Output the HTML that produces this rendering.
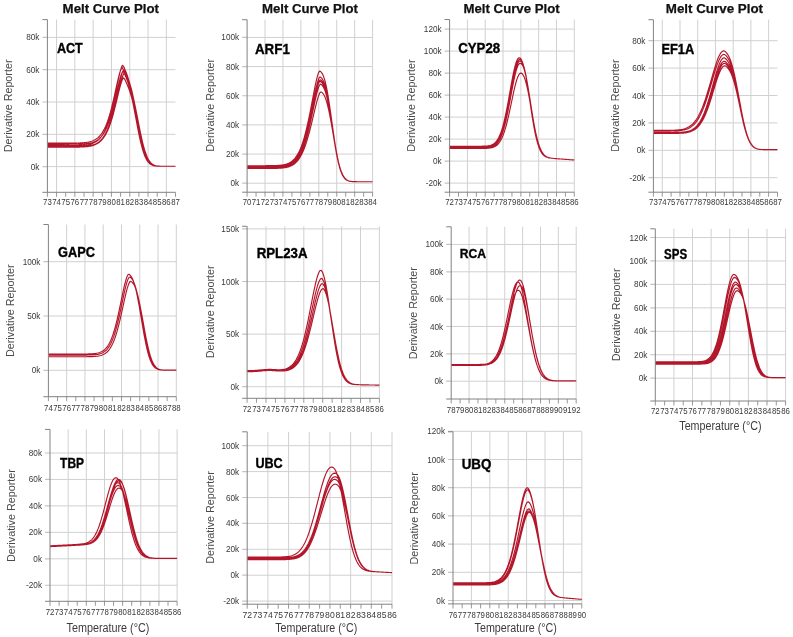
<!DOCTYPE html><html><head><meta charset="utf-8"><style>html,body{margin:0;padding:0;background:#fff;}svg{display:block;filter:blur(0.42px);font-family:"Liberation Sans",sans-serif;}</style></head><body>
<svg width="793" height="637" viewBox="0 0 793 637">
<rect width="793" height="637" fill="#fff"/>
<g><path d="M56.55 19.6V192.3M74.85 19.6V192.3M93.15 19.6V192.3M111.45 19.6V192.3M129.75 19.6V192.3M148.05 19.6V192.3M166.35 19.6V192.3M47.4 166.6H175.5M47.4 134.3H175.5M47.4 102H175.5M47.4 69.7H175.5M47.4 37.4H175.5" stroke="#d0d0d0" stroke-width="1" fill="none"/><path d="M47.4 145.6L48.4 145.6L49.4 145.6L50.4 145.6L51.4 145.6L52.4 145.6L53.4 145.6L54.41 145.6L55.41 145.6L56.41 145.6L57.41 145.6L58.41 145.6L59.41 145.6L60.41 145.6L61.41 145.6L62.41 145.6L63.41 145.6L64.41 145.6L65.41 145.59L66.41 145.59L67.42 145.59L68.42 145.58L69.42 145.58L70.42 145.57L71.42 145.57L72.42 145.56L73.42 145.55L74.42 145.53L75.42 145.52L76.42 145.5L77.42 145.47L78.42 145.45L79.42 145.41L80.43 145.37L81.43 145.32L82.43 145.26L83.43 145.18L84.43 145.09L85.43 144.99L86.43 144.86L87.43 144.72L88.43 144.54L89.43 144.33L90.43 144.08L91.43 143.79L92.44 143.45L93.44 143.05L94.44 142.59L95.44 142.05L96.44 141.41L97.44 140.68L98.44 139.84L99.44 138.87L100.44 137.75L101.44 136.48L102.44 135.03L103.44 133.38L104.44 131.52L105.45 129.43L106.45 127.09L107.45 124.47L108.45 121.57L109.45 118.38L110.45 114.88L111.45 111.08L112.45 106.99L113.45 102.62L114.45 98.02L115.45 93.24L116.45 88.35L117.45 83.48L118.46 78.76L119.46 74.35L120.46 70.45L121.46 67.32L122.46 65.38L123.46 66.26L124.46 68.37L125.46 70.66L126.46 73.18L127.46 75.96L128.46 79.06L129.46 82.54L130.46 86.43L131.47 90.75L132.47 95.46L133.47 100.52L134.47 105.86L135.47 111.37L136.47 116.97L137.47 122.53L138.47 127.96L139.47 133.15L140.47 138.03L141.47 142.53L142.47 146.59L143.47 150.21L144.48 153.36L145.48 156.05L146.48 158.31L147.48 160.17L148.48 161.67L149.48 162.87L150.48 163.79L151.48 164.5L152.48 165.03L153.48 165.41L154.48 165.69L155.48 165.89L156.49 166.02L157.49 166.11L158.49 166.18L159.49 166.21L160.49 166.24L161.49 166.25L162.49 166.26L163.49 166.27L164.49 166.27L165.49 166.27L166.49 166.28L167.49 166.28L168.49 166.28L169.5 166.28L170.5 166.28L171.5 166.28L172.5 166.28L173.5 166.28L174.5 166.28L175.5 166.28M47.4 143.18L48.4 143.18L49.4 143.18L50.4 143.18L51.4 143.18L52.4 143.18L53.4 143.18L54.41 143.18L55.41 143.18L56.41 143.18L57.41 143.18L58.41 143.18L59.41 143.18L60.41 143.18L61.41 143.18L62.41 143.18L63.41 143.18L64.41 143.17L65.41 143.17L66.41 143.17L67.42 143.17L68.42 143.16L69.42 143.16L70.42 143.15L71.42 143.14L72.42 143.13L73.42 143.12L74.42 143.11L75.42 143.09L76.42 143.07L77.42 143.04L78.42 143.01L79.42 142.98L80.43 142.93L81.43 142.88L82.43 142.82L83.43 142.74L84.43 142.65L85.43 142.54L86.43 142.41L87.43 142.25L88.43 142.07L89.43 141.85L90.43 141.6L91.43 141.3L92.44 140.94L93.44 140.53L94.44 140.05L95.44 139.49L96.44 138.84L97.44 138.09L98.44 137.23L99.44 136.23L100.44 135.09L101.44 133.79L102.44 132.31L103.44 130.64L104.44 128.75L105.45 126.63L106.45 124.27L107.45 121.63L108.45 118.73L109.45 115.53L110.45 112.05L111.45 108.28L112.45 104.25L113.45 99.98L114.45 95.52L115.45 90.94L116.45 86.33L117.45 81.83L118.46 77.58L119.46 73.76L120.46 70.59L121.46 68.34L122.46 67.71L123.46 69.94L124.46 72.33L125.46 74.88L126.46 77.61L127.46 80.58L128.46 83.85L129.46 87.46L130.46 91.45L131.47 95.82L132.47 100.54L133.47 105.56L134.47 110.78L135.47 116.13L136.47 121.51L137.47 126.8L138.47 131.91L139.47 136.76L140.47 141.28L141.47 145.4L142.47 149.1L143.47 152.35L144.48 155.16L145.48 157.54L146.48 159.53L147.48 161.14L148.48 162.44L149.48 163.46L150.48 164.24L151.48 164.83L152.48 165.27L153.48 165.59L154.48 165.81L155.48 165.97L156.49 166.08L157.49 166.15L158.49 166.2L159.49 166.23L160.49 166.25L161.49 166.26L162.49 166.27L163.49 166.27L164.49 166.27L165.49 166.28L166.49 166.28L167.49 166.28L168.49 166.28L169.5 166.28L170.5 166.28L171.5 166.28L172.5 166.28L173.5 166.28L174.5 166.28L175.5 166.28M47.4 146.9L48.4 146.9L49.4 146.9L50.4 146.9L51.4 146.9L52.4 146.9L53.4 146.9L54.41 146.9L55.41 146.9L56.41 146.9L57.41 146.9L58.41 146.9L59.41 146.89L60.41 146.89L61.41 146.89L62.41 146.89L63.41 146.89L64.41 146.89L65.41 146.89L66.41 146.89L67.42 146.88L68.42 146.88L69.42 146.88L70.42 146.87L71.42 146.87L72.42 146.86L73.42 146.85L74.42 146.84L75.42 146.83L76.42 146.82L77.42 146.8L78.42 146.77L79.42 146.75L80.43 146.71L81.43 146.67L82.43 146.63L83.43 146.57L84.43 146.5L85.43 146.42L86.43 146.32L87.43 146.2L88.43 146.06L89.43 145.89L90.43 145.7L91.43 145.47L92.44 145.19L93.44 144.87L94.44 144.49L95.44 144.06L96.44 143.54L97.44 142.95L98.44 142.26L99.44 141.46L100.44 140.54L101.44 139.49L102.44 138.29L103.44 136.92L104.44 135.36L105.45 133.6L106.45 131.62L107.45 129.4L108.45 126.92L109.45 124.17L110.45 121.14L111.45 117.82L112.45 114.21L113.45 110.31L114.45 106.15L115.45 101.76L116.45 97.19L117.45 92.51L118.46 87.83L119.46 83.27L120.46 78.99L121.46 75.17L122.46 72.06L123.46 70.02L124.46 70.53L125.46 72.49L126.46 74.63L127.46 76.99L128.46 79.6L129.46 82.52L130.46 85.8L131.47 89.48L132.47 93.57L133.47 98.04L134.47 102.85L135.47 107.93L136.47 113.2L137.47 118.55L138.47 123.88L139.47 129.09L140.47 134.09L141.47 138.8L142.47 143.14L143.47 147.07L144.48 150.58L145.48 153.63L146.48 156.25L147.48 158.45L148.48 160.27L149.48 161.74L150.48 162.91L151.48 163.82L152.48 164.52L153.48 165.04L154.48 165.42L155.48 165.7L156.49 165.89L157.49 166.02L158.49 166.11L159.49 166.18L160.49 166.21L161.49 166.24L162.49 166.25L163.49 166.26L164.49 166.27L165.49 166.27L166.49 166.27L167.49 166.28L168.49 166.28L169.5 166.28L170.5 166.28L171.5 166.28L172.5 166.28L173.5 166.28L174.5 166.28L175.5 166.28M47.4 144.31L48.4 144.31L49.4 144.31L50.4 144.31L51.4 144.31L52.4 144.31L53.4 144.31L54.41 144.31L55.41 144.31L56.41 144.31L57.41 144.31L58.41 144.31L59.41 144.31L60.41 144.31L61.41 144.31L62.41 144.31L63.41 144.31L64.41 144.31L65.41 144.3L66.41 144.3L67.42 144.3L68.42 144.3L69.42 144.29L70.42 144.29L71.42 144.28L72.42 144.27L73.42 144.26L74.42 144.25L75.42 144.24L76.42 144.22L77.42 144.2L78.42 144.18L79.42 144.15L80.43 144.11L81.43 144.07L82.43 144.02L83.43 143.95L84.43 143.88L85.43 143.79L86.43 143.68L87.43 143.55L88.43 143.4L89.43 143.22L90.43 143.01L91.43 142.76L92.44 142.47L93.44 142.12L94.44 141.72L95.44 141.25L96.44 140.7L97.44 140.07L98.44 139.34L99.44 138.49L100.44 137.52L101.44 136.41L102.44 135.15L103.44 133.71L104.44 132.08L105.45 130.24L106.45 128.17L107.45 125.87L108.45 123.31L109.45 120.48L110.45 117.38L111.45 114L112.45 110.34L113.45 106.43L114.45 102.3L115.45 97.98L116.45 93.55L117.45 89.11L118.46 84.77L119.46 80.69L120.46 77.04L121.46 74.02L122.46 71.91L123.46 71.58L124.46 73.72L125.46 76.01L126.46 78.46L127.46 81.1L128.46 83.97L129.46 87.13L130.46 90.64L131.47 94.51L132.47 98.75L133.47 103.33L134.47 108.18L135.47 113.23L136.47 118.39L137.47 123.56L138.47 128.65L139.47 133.56L140.47 138.21L141.47 142.53L142.47 146.48L143.47 150L144.48 153.1L145.48 155.78L146.48 158.04L147.48 159.92L148.48 161.45L149.48 162.67L150.48 163.63L151.48 164.37L152.48 164.92L153.48 165.34L154.48 165.63L155.48 165.85L156.49 165.99L157.49 166.09L158.49 166.16L159.49 166.21L160.49 166.23L161.49 166.25L162.49 166.26L163.49 166.27L164.49 166.27L165.49 166.27L166.49 166.28L167.49 166.28L168.49 166.28L169.5 166.28L170.5 166.28L171.5 166.28L172.5 166.28L173.5 166.28L174.5 166.28L175.5 166.28M47.4 146.41L48.4 146.41L49.4 146.41L50.4 146.41L51.4 146.41L52.4 146.41L53.4 146.41L54.41 146.41L55.41 146.41L56.41 146.41L57.41 146.41L58.41 146.41L59.41 146.41L60.41 146.41L61.41 146.41L62.41 146.41L63.41 146.41L64.41 146.41L65.41 146.41L66.41 146.4L67.42 146.4L68.42 146.4L69.42 146.4L70.42 146.39L71.42 146.39L72.42 146.38L73.42 146.38L74.42 146.37L75.42 146.36L76.42 146.34L77.42 146.33L78.42 146.31L79.42 146.28L80.43 146.26L81.43 146.22L82.43 146.18L83.43 146.13L84.43 146.07L85.43 146L86.43 145.91L87.43 145.81L88.43 145.69L89.43 145.55L90.43 145.37L91.43 145.17L92.44 144.93L93.44 144.65L94.44 144.32L95.44 143.94L96.44 143.49L97.44 142.96L98.44 142.35L99.44 141.65L100.44 140.84L101.44 139.91L102.44 138.84L103.44 137.62L104.44 136.23L105.45 134.66L106.45 132.88L107.45 130.88L108.45 128.65L109.45 126.17L110.45 123.42L111.45 120.4L112.45 117.11L113.45 113.53L114.45 109.7L115.45 105.62L116.45 101.35L117.45 96.94L118.46 92.48L119.46 88.07L120.46 83.86L121.46 80.01L122.46 76.71L123.46 74.22L124.46 73.09L125.46 74.8L126.46 76.87L127.46 79.11L128.46 81.55L129.46 84.24L130.46 87.23L131.47 90.58L132.47 94.3L133.47 98.39L134.47 102.84L135.47 107.58L136.47 112.54L137.47 117.64L138.47 122.77L139.47 127.84L140.47 132.76L141.47 137.43L142.47 141.8L143.47 145.79L144.48 149.39L145.48 152.56L146.48 155.3L147.48 157.64L148.48 159.58L149.48 161.17L150.48 162.45L151.48 163.46L152.48 164.24L153.48 164.83L154.48 165.26L155.48 165.58L156.49 165.81L157.49 165.97L158.49 166.08L159.49 166.15L160.49 166.2L161.49 166.23L162.49 166.25L163.49 166.26L164.49 166.27L165.49 166.27L166.49 166.27L167.49 166.28L168.49 166.28L169.5 166.28L170.5 166.28L171.5 166.28L172.5 166.28L173.5 166.28L174.5 166.28L175.5 166.28M47.4 147.22L48.4 147.22L49.4 147.22L50.4 147.22L51.4 147.22L52.4 147.22L53.4 147.22L54.41 147.22L55.41 147.22L56.41 147.22L57.41 147.22L58.41 147.22L59.41 147.22L60.41 147.22L61.41 147.22L62.41 147.22L63.41 147.22L64.41 147.21L65.41 147.21L66.41 147.21L67.42 147.21L68.42 147.21L69.42 147.2L70.42 147.2L71.42 147.19L72.42 147.19L73.42 147.18L74.42 147.17L75.42 147.16L76.42 147.14L77.42 147.13L78.42 147.1L79.42 147.08L80.43 147.05L81.43 147.01L82.43 146.97L83.43 146.91L84.43 146.85L85.43 146.77L86.43 146.68L87.43 146.57L88.43 146.44L89.43 146.28L90.43 146.1L91.43 145.89L92.44 145.63L93.44 145.33L94.44 144.98L95.44 144.57L96.44 144.1L97.44 143.55L98.44 142.91L99.44 142.17L100.44 141.32L101.44 140.34L102.44 139.23L103.44 137.96L104.44 136.51L105.45 134.89L106.45 133.06L107.45 131.01L108.45 128.72L109.45 126.19L110.45 123.4L111.45 120.35L112.45 117.03L113.45 113.47L114.45 109.67L115.45 105.67L116.45 101.52L117.45 97.29L118.46 93.09L119.46 89.04L120.46 85.28L121.46 82L122.46 79.4L123.46 77.88L124.46 78.88L125.46 80.81L126.46 82.91L127.46 85.18L128.46 87.67L129.46 90.43L130.46 93.51L131.47 96.94L132.47 100.73L133.47 104.86L134.47 109.28L135.47 113.94L136.47 118.75L137.47 123.61L138.47 128.45L139.47 133.17L140.47 137.67L141.47 141.9L142.47 145.8L143.47 149.32L144.48 152.44L145.48 155.16L146.48 157.48L147.48 159.43L148.48 161.03L149.48 162.33L150.48 163.35L151.48 164.15L152.48 164.76L153.48 165.21L154.48 165.54L155.48 165.78L156.49 165.95L157.49 166.06L158.49 166.14L159.49 166.19L160.49 166.22L161.49 166.25L162.49 166.26L163.49 166.27L164.49 166.27L165.49 166.27L166.49 166.28L167.49 166.28L168.49 166.28L169.5 166.28L170.5 166.28L171.5 166.28L172.5 166.28L173.5 166.28L174.5 166.28L175.5 166.28" stroke="#b3162a" stroke-width="1.15" fill="none" stroke-linejoin="round"/><path d="M42.4 166.6H47.4M42.4 134.3H47.4M42.4 102H47.4M42.4 69.7H47.4M42.4 37.4H47.4" stroke="#c4c4c4" stroke-width="1.2" fill="none"/><path d="M47.4 192.3V196.8M56.55 192.3V196.8M65.7 192.3V196.8M74.85 192.3V196.8M84 192.3V196.8M93.15 192.3V196.8M102.3 192.3V196.8M111.45 192.3V196.8M120.6 192.3V196.8M129.75 192.3V196.8M138.9 192.3V196.8M148.05 192.3V196.8M157.2 192.3V196.8M166.35 192.3V196.8M175.5 192.3V196.8" stroke="#999" stroke-width="1" fill="none"/><path d="M47.4 19.6V192.3M42.4 19.6H47.4M42.4 192.3H175.5" stroke="#828282" stroke-width="1" fill="none"/><text x="39.4" y="169.6" font-size="8.2" fill="#383838" text-anchor="end">0k</text><text x="39.4" y="137.3" font-size="8.2" fill="#383838" text-anchor="end">20k</text><text x="39.4" y="105" font-size="8.2" fill="#383838" text-anchor="end">40k</text><text x="39.4" y="72.7" font-size="8.2" fill="#383838" text-anchor="end">60k</text><text x="39.4" y="40.4" font-size="8.2" fill="#383838" text-anchor="end">80k</text><text x="47.4" y="204.9" font-size="8.6" fill="#383838" text-anchor="middle" textLength="8.7" lengthAdjust="spacingAndGlyphs">73</text><text x="56.55" y="204.9" font-size="8.6" fill="#383838" text-anchor="middle" textLength="8.7" lengthAdjust="spacingAndGlyphs">74</text><text x="65.7" y="204.9" font-size="8.6" fill="#383838" text-anchor="middle" textLength="8.7" lengthAdjust="spacingAndGlyphs">75</text><text x="74.85" y="204.9" font-size="8.6" fill="#383838" text-anchor="middle" textLength="8.7" lengthAdjust="spacingAndGlyphs">76</text><text x="84" y="204.9" font-size="8.6" fill="#383838" text-anchor="middle" textLength="8.7" lengthAdjust="spacingAndGlyphs">77</text><text x="93.15" y="204.9" font-size="8.6" fill="#383838" text-anchor="middle" textLength="8.7" lengthAdjust="spacingAndGlyphs">78</text><text x="102.3" y="204.9" font-size="8.6" fill="#383838" text-anchor="middle" textLength="8.7" lengthAdjust="spacingAndGlyphs">79</text><text x="111.45" y="204.9" font-size="8.6" fill="#383838" text-anchor="middle" textLength="8.7" lengthAdjust="spacingAndGlyphs">80</text><text x="120.6" y="204.9" font-size="8.6" fill="#383838" text-anchor="middle" textLength="8.7" lengthAdjust="spacingAndGlyphs">81</text><text x="129.75" y="204.9" font-size="8.6" fill="#383838" text-anchor="middle" textLength="8.7" lengthAdjust="spacingAndGlyphs">82</text><text x="138.9" y="204.9" font-size="8.6" fill="#383838" text-anchor="middle" textLength="8.7" lengthAdjust="spacingAndGlyphs">83</text><text x="148.05" y="204.9" font-size="8.6" fill="#383838" text-anchor="middle" textLength="8.7" lengthAdjust="spacingAndGlyphs">84</text><text x="157.2" y="204.9" font-size="8.6" fill="#383838" text-anchor="middle" textLength="8.7" lengthAdjust="spacingAndGlyphs">85</text><text x="166.35" y="204.9" font-size="8.6" fill="#383838" text-anchor="middle" textLength="8.7" lengthAdjust="spacingAndGlyphs">86</text><text x="175.5" y="204.9" font-size="8.6" fill="#383838" text-anchor="middle" textLength="8.7" lengthAdjust="spacingAndGlyphs">87</text><text x="62.6" y="12.9" font-size="13.5" font-weight="bold" fill="#111" stroke="#111" stroke-width="0.25" textLength="96.4" lengthAdjust="spacingAndGlyphs">Melt Curve Plot</text><text x="56.9" y="52.5" font-size="14.24" font-weight="bold" fill="#000" stroke="#000" stroke-width="0.35" textLength="25.9" lengthAdjust="spacingAndGlyphs">ACT</text><text transform="translate(11.6 152.2) rotate(-90)" font-size="11" fill="#4a4a4a" textLength="92.7" lengthAdjust="spacingAndGlyphs">Derivative Reporter</text></g>
<g><path d="M265.03 19.7V192.2M282.96 19.7V192.2M300.89 19.7V192.2M318.81 19.7V192.2M336.74 19.7V192.2M354.67 19.7V192.2M372.6 19.7V192.2M247.1 183.2H372.6M247.1 154.05H372.6M247.1 124.9H372.6M247.1 95.75H372.6M247.1 66.6H372.6M247.1 37.45H372.6" stroke="#d0d0d0" stroke-width="1" fill="none"/><path d="M247.1 165.71L248.1 165.71L249.11 165.71L250.11 165.71L251.12 165.71L252.12 165.71L253.12 165.71L254.13 165.71L255.13 165.71L256.14 165.71L257.14 165.71L258.14 165.71L259.15 165.71L260.15 165.71L261.16 165.71L262.16 165.7L263.16 165.7L264.17 165.7L265.17 165.7L266.18 165.69L267.18 165.69L268.18 165.68L269.19 165.67L270.19 165.66L271.2 165.65L272.2 165.63L273.2 165.61L274.21 165.58L275.21 165.55L276.22 165.51L277.22 165.46L278.22 165.4L279.23 165.33L280.23 165.23L281.24 165.12L282.24 164.99L283.24 164.82L284.25 164.63L285.25 164.39L286.26 164.11L287.26 163.77L288.26 163.37L289.27 162.9L290.27 162.34L291.28 161.68L292.28 160.92L293.28 160.03L294.29 159.01L295.29 157.82L296.3 156.46L297.3 154.91L298.3 153.15L299.31 151.15L300.31 148.91L301.32 146.41L302.32 143.62L303.32 140.55L304.33 137.17L305.33 133.48L306.34 129.5L307.34 125.22L308.34 120.66L309.35 115.86L310.35 110.84L311.36 105.66L312.36 100.39L313.36 95.11L314.37 89.92L315.37 84.96L316.38 80.36L317.38 76.33L318.38 73.12L319.39 71.17L320.39 71.4L321.4 72.37L322.4 73.85L323.4 75.98L324.41 78.86L325.41 82.52L326.42 86.97L327.42 92.17L328.42 98.05L329.43 104.5L330.43 111.37L331.44 118.5L332.44 125.72L333.44 132.86L334.45 139.76L335.45 146.26L336.46 152.25L337.46 157.65L338.46 162.4L339.47 166.5L340.47 169.94L341.48 172.78L342.48 175.05L343.48 176.84L344.49 178.21L345.49 179.25L346.5 180L347.5 180.54L348.5 180.93L349.51 181.19L350.51 181.37L351.52 181.48L352.52 181.56L353.52 181.61L354.53 181.65L355.53 181.67L356.54 181.69L357.54 181.7L358.54 181.71L359.55 181.71L360.55 181.72L361.56 181.72L362.56 181.72L363.56 181.73L364.57 181.73L365.57 181.73L366.58 181.73L367.58 181.73L368.58 181.74L369.59 181.74L370.59 181.74L371.6 181.74L372.6 181.74M247.1 166.29L248.1 166.29L249.11 166.29L250.11 166.29L251.12 166.29L252.12 166.29L253.12 166.29L254.13 166.29L255.13 166.29L256.14 166.29L257.14 166.29L258.14 166.29L259.15 166.29L260.15 166.29L261.16 166.29L262.16 166.29L263.16 166.29L264.17 166.28L265.17 166.28L266.18 166.28L267.18 166.27L268.18 166.27L269.19 166.26L270.19 166.25L271.2 166.24L272.2 166.22L273.2 166.21L274.21 166.18L275.21 166.15L276.22 166.12L277.22 166.07L278.22 166.02L279.23 165.95L280.23 165.87L281.24 165.77L282.24 165.65L283.24 165.5L284.25 165.32L285.25 165.11L286.26 164.85L287.26 164.55L288.26 164.19L289.27 163.76L290.27 163.26L291.28 162.66L292.28 161.97L293.28 161.16L294.29 160.23L295.29 159.15L296.3 157.91L297.3 156.5L298.3 154.88L299.31 153.06L300.31 151.01L301.32 148.71L302.32 146.14L303.32 143.31L304.33 140.2L305.33 136.79L306.34 133.1L307.34 129.13L308.34 124.89L309.35 120.41L310.35 115.72L311.36 110.86L312.36 105.9L313.36 100.91L314.37 95.97L315.37 91.21L316.38 86.77L317.38 82.8L318.38 79.53L319.39 77.32L320.39 77.03L321.4 77.85L322.4 79.12L323.4 80.97L324.41 83.51L325.41 86.78L326.42 90.8L327.42 95.55L328.42 100.96L329.43 106.93L330.43 113.34L331.44 120.05L332.44 126.88L333.44 133.68L334.45 140.28L335.45 146.54L336.46 152.35L337.46 157.62L338.46 162.29L339.47 166.33L340.47 169.75L341.48 172.59L342.48 174.88L343.48 176.69L344.49 178.09L345.49 179.14L346.5 179.92L347.5 180.48L348.5 180.88L349.51 181.16L350.51 181.35L351.52 181.47L352.52 181.55L353.52 181.61L354.53 181.64L355.53 181.67L356.54 181.68L357.54 181.7L358.54 181.7L359.55 181.71L360.55 181.72L361.56 181.72L362.56 181.72L363.56 181.73L364.57 181.73L365.57 181.73L366.58 181.73L367.58 181.73L368.58 181.74L369.59 181.74L370.59 181.74L371.6 181.74L372.6 181.74M247.1 166.88L248.1 166.88L249.11 166.88L250.11 166.88L251.12 166.88L252.12 166.88L253.12 166.88L254.13 166.88L255.13 166.88L256.14 166.88L257.14 166.88L258.14 166.87L259.15 166.87L260.15 166.87L261.16 166.87L262.16 166.87L263.16 166.87L264.17 166.87L265.17 166.87L266.18 166.86L267.18 166.86L268.18 166.85L269.19 166.85L270.19 166.84L271.2 166.83L272.2 166.81L273.2 166.79L274.21 166.77L275.21 166.75L276.22 166.71L277.22 166.67L278.22 166.62L279.23 166.56L280.23 166.48L281.24 166.38L282.24 166.27L283.24 166.13L284.25 165.96L285.25 165.76L286.26 165.52L287.26 165.24L288.26 164.89L289.27 164.49L290.27 164.01L291.28 163.45L292.28 162.8L293.28 162.03L294.29 161.15L295.29 160.12L296.3 158.94L297.3 157.6L298.3 156.06L299.31 154.33L300.31 152.37L301.32 150.17L302.32 147.73L303.32 145.02L304.33 142.03L305.33 138.77L306.34 135.22L307.34 131.41L308.34 127.32L309.35 123L310.35 118.47L311.36 113.76L312.36 108.94L313.36 104.08L314.37 99.26L315.37 94.58L316.38 90.18L317.38 86.21L318.38 82.89L319.39 80.51L320.39 79.83L321.4 80.56L322.4 81.7L323.4 83.39L324.41 85.73L325.41 88.77L326.42 92.55L327.42 97.04L328.42 102.19L329.43 107.91L330.43 114.08L331.44 120.56L332.44 127.19L333.44 133.82L334.45 140.29L335.45 146.45L336.46 152.19L337.46 157.41L338.46 162.06L339.47 166.1L340.47 169.53L341.48 172.39L342.48 174.7L343.48 176.54L344.49 177.97L345.49 179.05L346.5 179.85L347.5 180.44L348.5 180.85L349.51 181.13L350.51 181.33L351.52 181.46L352.52 181.55L353.52 181.61L354.53 181.64L355.53 181.67L356.54 181.68L357.54 181.7L358.54 181.7L359.55 181.71L360.55 181.72L361.56 181.72L362.56 181.72L363.56 181.73L364.57 181.73L365.57 181.73L366.58 181.73L367.58 181.73L368.58 181.74L369.59 181.74L370.59 181.74L371.6 181.74L372.6 181.74M247.1 167.46L248.1 167.46L249.11 167.46L250.11 167.46L251.12 167.46L252.12 167.46L253.12 167.46L254.13 167.46L255.13 167.46L256.14 167.46L257.14 167.46L258.14 167.46L259.15 167.46L260.15 167.46L261.16 167.46L262.16 167.45L263.16 167.45L264.17 167.45L265.17 167.45L266.18 167.44L267.18 167.44L268.18 167.43L269.19 167.43L270.19 167.42L271.2 167.41L272.2 167.39L273.2 167.37L274.21 167.35L275.21 167.32L276.22 167.29L277.22 167.25L278.22 167.19L279.23 167.13L280.23 167.05L281.24 166.95L282.24 166.84L283.24 166.7L284.25 166.52L285.25 166.32L286.26 166.07L287.26 165.78L288.26 165.43L289.27 165.02L290.27 164.53L291.28 163.96L292.28 163.3L293.28 162.52L294.29 161.62L295.29 160.58L296.3 159.39L297.3 158.03L298.3 156.48L299.31 154.72L300.31 152.74L301.32 150.53L302.32 148.06L303.32 145.33L304.33 142.33L305.33 139.06L306.34 135.5L307.34 131.68L308.34 127.59L309.35 123.28L310.35 118.75L311.36 114.07L312.36 109.29L313.36 104.48L314.37 99.72L315.37 95.12L316.38 90.83L317.38 86.99L318.38 83.84L319.39 81.68L320.39 81.39L321.4 82.15L322.4 83.35L323.4 85.11L324.41 87.53L325.41 90.65L326.42 94.5L327.42 99.04L328.42 104.22L329.43 109.95L330.43 116.1L331.44 122.53L332.44 129.09L333.44 135.61L334.45 141.95L335.45 147.96L336.46 153.54L337.46 158.6L338.46 163.08L339.47 166.96L340.47 170.24L341.48 172.96L342.48 175.16L343.48 176.9L344.49 178.24L345.49 179.25L346.5 180L347.5 180.54L348.5 180.92L349.51 181.19L350.51 181.37L351.52 181.49L352.52 181.56L353.52 181.62L354.53 181.65L355.53 181.67L356.54 181.69L357.54 181.7L358.54 181.71L359.55 181.71L360.55 181.72L361.56 181.72L362.56 181.73L363.56 181.73L364.57 181.73L365.57 181.73L366.58 181.73L367.58 181.73L368.58 181.74L369.59 181.74L370.59 181.74L371.6 181.74L372.6 181.74M247.1 168.04L248.1 168.04L249.11 168.04L250.11 168.04L251.12 168.04L252.12 168.04L253.12 168.04L254.13 168.04L255.13 168.04L256.14 168.04L257.14 168.04L258.14 168.04L259.15 168.04L260.15 168.04L261.16 168.04L262.16 168.04L263.16 168.04L264.17 168.03L265.17 168.03L266.18 168.03L267.18 168.03L268.18 168.02L269.19 168.01L270.19 168.01L271.2 168L272.2 167.98L273.2 167.97L274.21 167.95L275.21 167.92L276.22 167.89L277.22 167.85L278.22 167.81L279.23 167.75L280.23 167.68L281.24 167.59L282.24 167.49L283.24 167.36L284.25 167.21L285.25 167.02L286.26 166.8L287.26 166.54L288.26 166.22L289.27 165.85L290.27 165.41L291.28 164.89L292.28 164.29L293.28 163.58L294.29 162.76L295.29 161.81L296.3 160.71L297.3 159.46L298.3 158.03L299.31 156.41L300.31 154.58L301.32 152.53L302.32 150.24L303.32 147.7L304.33 144.89L305.33 141.82L306.34 138.48L307.34 134.87L308.34 131L309.35 126.9L310.35 122.58L311.36 118.09L312.36 113.47L313.36 108.79L314.37 104.12L315.37 99.57L316.38 95.24L317.38 91.3L318.38 87.91L319.39 85.34L320.39 84.09L321.4 84.67L322.4 85.63L323.4 87.09L324.41 89.15L325.41 91.88L326.42 95.31L327.42 99.44L328.42 104.21L329.43 109.56L330.43 115.37L331.44 121.52L332.44 127.85L333.44 134.22L334.45 140.47L335.45 146.47L336.46 152.08L337.46 157.22L338.46 161.81L339.47 165.84L340.47 169.27L341.48 172.15L342.48 174.49L343.48 176.36L344.49 177.83L345.49 178.94L346.5 179.77L347.5 180.37L348.5 180.8L349.51 181.11L350.51 181.31L351.52 181.45L352.52 181.54L353.52 181.6L354.53 181.64L355.53 181.67L356.54 181.69L357.54 181.7L358.54 181.71L359.55 181.71L360.55 181.72L361.56 181.72L362.56 181.72L363.56 181.73L364.57 181.73L365.57 181.73L366.58 181.73L367.58 181.73L368.58 181.74L369.59 181.74L370.59 181.74L371.6 181.74L372.6 181.74M247.1 168.48L248.1 168.48L249.11 168.48L250.11 168.48L251.12 168.48L252.12 168.48L253.12 168.48L254.13 168.48L255.13 168.48L256.14 168.48L257.14 168.48L258.14 168.48L259.15 168.48L260.15 168.48L261.16 168.48L262.16 168.48L263.16 168.47L264.17 168.47L265.17 168.47L266.18 168.47L267.18 168.47L268.18 168.46L269.19 168.46L270.19 168.45L271.2 168.44L272.2 168.43L273.2 168.42L274.21 168.4L275.21 168.38L276.22 168.35L277.22 168.32L278.22 168.28L279.23 168.23L280.23 168.17L281.24 168.1L282.24 168.01L283.24 167.9L284.25 167.77L285.25 167.61L286.26 167.43L287.26 167.2L288.26 166.93L289.27 166.61L290.27 166.23L291.28 165.78L292.28 165.26L293.28 164.65L294.29 163.94L295.29 163.11L296.3 162.16L297.3 161.07L298.3 159.83L299.31 158.41L300.31 156.81L301.32 155.01L302.32 153L303.32 150.76L304.33 148.28L305.33 145.57L306.34 142.6L307.34 139.39L308.34 135.94L309.35 132.27L310.35 128.39L311.36 124.34L312.36 120.16L313.36 115.9L314.37 111.62L315.37 107.42L316.38 103.39L317.38 99.64L318.38 96.34L319.39 93.7L320.39 92.03L321.4 92.13L322.4 92.89L323.4 94.07L324.41 95.77L325.41 98.07L326.42 101L327.42 104.57L328.42 108.75L329.43 113.49L330.43 118.69L331.44 124.24L332.44 130.02L333.44 135.88L334.45 141.68L335.45 147.29L336.46 152.59L337.46 157.49L338.46 161.9L339.47 165.8L340.47 169.15L341.48 171.98L342.48 174.32L343.48 176.19L344.49 177.67L345.49 178.81L346.5 179.66L347.5 180.29L348.5 180.74L349.51 181.06L350.51 181.28L351.52 181.43L352.52 181.53L353.52 181.59L354.53 181.63L355.53 181.66L356.54 181.68L357.54 181.7L358.54 181.7L359.55 181.71L360.55 181.72L361.56 181.72L362.56 181.72L363.56 181.73L364.57 181.73L365.57 181.73L366.58 181.73L367.58 181.73L368.58 181.74L369.59 181.74L370.59 181.74L371.6 181.74L372.6 181.74" stroke="#b3162a" stroke-width="1.15" fill="none" stroke-linejoin="round"/><path d="M242.1 183.2H247.1M242.1 154.05H247.1M242.1 124.9H247.1M242.1 95.75H247.1M242.1 66.6H247.1M242.1 37.45H247.1" stroke="#c4c4c4" stroke-width="1.2" fill="none"/><path d="M247.1 192.2V196.7M256.06 192.2V196.7M265.03 192.2V196.7M273.99 192.2V196.7M282.96 192.2V196.7M291.92 192.2V196.7M300.89 192.2V196.7M309.85 192.2V196.7M318.81 192.2V196.7M327.78 192.2V196.7M336.74 192.2V196.7M345.71 192.2V196.7M354.67 192.2V196.7M363.64 192.2V196.7M372.6 192.2V196.7" stroke="#999" stroke-width="1" fill="none"/><path d="M247.1 19.7V192.2M242.1 19.7H247.1M242.1 192.2H372.6" stroke="#828282" stroke-width="1" fill="none"/><text x="239.1" y="186.2" font-size="8.2" fill="#383838" text-anchor="end">0k</text><text x="239.1" y="157.05" font-size="8.2" fill="#383838" text-anchor="end">20k</text><text x="239.1" y="127.9" font-size="8.2" fill="#383838" text-anchor="end">40k</text><text x="239.1" y="98.75" font-size="8.2" fill="#383838" text-anchor="end">60k</text><text x="239.1" y="69.6" font-size="8.2" fill="#383838" text-anchor="end">80k</text><text x="239.1" y="40.45" font-size="8.2" fill="#383838" text-anchor="end">100k</text><text x="247.1" y="204.9" font-size="8.6" fill="#383838" text-anchor="middle" textLength="8.7" lengthAdjust="spacingAndGlyphs">70</text><text x="256.06" y="204.9" font-size="8.6" fill="#383838" text-anchor="middle" textLength="8.7" lengthAdjust="spacingAndGlyphs">71</text><text x="265.03" y="204.9" font-size="8.6" fill="#383838" text-anchor="middle" textLength="8.7" lengthAdjust="spacingAndGlyphs">72</text><text x="273.99" y="204.9" font-size="8.6" fill="#383838" text-anchor="middle" textLength="8.7" lengthAdjust="spacingAndGlyphs">73</text><text x="282.96" y="204.9" font-size="8.6" fill="#383838" text-anchor="middle" textLength="8.7" lengthAdjust="spacingAndGlyphs">74</text><text x="291.92" y="204.9" font-size="8.6" fill="#383838" text-anchor="middle" textLength="8.7" lengthAdjust="spacingAndGlyphs">75</text><text x="300.89" y="204.9" font-size="8.6" fill="#383838" text-anchor="middle" textLength="8.7" lengthAdjust="spacingAndGlyphs">76</text><text x="309.85" y="204.9" font-size="8.6" fill="#383838" text-anchor="middle" textLength="8.7" lengthAdjust="spacingAndGlyphs">77</text><text x="318.81" y="204.9" font-size="8.6" fill="#383838" text-anchor="middle" textLength="8.7" lengthAdjust="spacingAndGlyphs">78</text><text x="327.78" y="204.9" font-size="8.6" fill="#383838" text-anchor="middle" textLength="8.7" lengthAdjust="spacingAndGlyphs">79</text><text x="336.74" y="204.9" font-size="8.6" fill="#383838" text-anchor="middle" textLength="8.7" lengthAdjust="spacingAndGlyphs">80</text><text x="345.71" y="204.9" font-size="8.6" fill="#383838" text-anchor="middle" textLength="8.7" lengthAdjust="spacingAndGlyphs">81</text><text x="354.67" y="204.9" font-size="8.6" fill="#383838" text-anchor="middle" textLength="8.7" lengthAdjust="spacingAndGlyphs">82</text><text x="363.64" y="204.9" font-size="8.6" fill="#383838" text-anchor="middle" textLength="8.7" lengthAdjust="spacingAndGlyphs">83</text><text x="372.6" y="204.9" font-size="8.6" fill="#383838" text-anchor="middle" textLength="8.7" lengthAdjust="spacingAndGlyphs">84</text><text x="261.9" y="12.9" font-size="13.5" font-weight="bold" fill="#111" stroke="#111" stroke-width="0.25" textLength="96.1" lengthAdjust="spacingAndGlyphs">Melt Curve Plot</text><text x="255" y="53.6" font-size="14.38" font-weight="bold" fill="#000" stroke="#000" stroke-width="0.35" textLength="34.8" lengthAdjust="spacingAndGlyphs">ARF1</text><text transform="translate(214.1 151.8) rotate(-90)" font-size="11" fill="#4a4a4a" textLength="93" lengthAdjust="spacingAndGlyphs">Derivative Reporter</text></g>
<g><path d="M467.41 19.5V192.2M485.23 19.5V192.2M503.04 19.5V192.2M520.86 19.5V192.2M538.67 19.5V192.2M556.49 19.5V192.2M574.3 19.5V192.2M449.6 183.1H574.3M449.6 161.1H574.3M449.6 139.1H574.3M449.6 117.1H574.3M449.6 95.1H574.3M449.6 73.1H574.3M449.6 51.1H574.3M449.6 29.1H574.3" stroke="#d0d0d0" stroke-width="1" fill="none"/><path d="M449.6 146.25L450.61 146.25L451.61 146.25L452.62 146.25L453.62 146.25L454.63 146.25L455.63 146.25L456.64 146.25L457.65 146.25L458.65 146.25L459.66 146.25L460.66 146.25L461.67 146.25L462.67 146.25L463.68 146.25L464.68 146.25L465.69 146.25L466.7 146.25L467.7 146.25L468.71 146.25L469.71 146.25L470.72 146.25L471.72 146.25L472.73 146.25L473.74 146.25L474.74 146.25L475.75 146.25L476.75 146.25L477.76 146.24L478.76 146.24L479.77 146.23L480.78 146.22L481.78 146.21L482.79 146.19L483.79 146.16L484.8 146.11L485.8 146.05L486.81 145.97L487.81 145.85L488.82 145.69L489.83 145.47L490.83 145.18L491.84 144.81L492.84 144.31L493.85 143.68L494.85 142.88L495.86 141.88L496.87 140.63L497.87 139.11L498.88 137.28L499.88 135.1L500.89 132.53L501.89 129.56L502.9 126.16L503.9 122.32L504.91 118.05L505.92 113.39L506.92 108.35L507.93 103.02L508.93 97.48L509.94 91.81L510.94 86.15L511.95 80.63L512.96 75.4L513.96 70.59L514.97 66.37L515.97 62.88L516.98 60.22L517.98 58.48L518.99 57.73L520 57.97L521 59.04L522.01 60.91L523.01 63.67L524.02 67.31L525.02 71.78L526.03 77L527.03 82.83L528.04 89.14L529.05 95.75L530.05 102.49L531.06 109.2L532.06 115.7L533.07 121.87L534.07 127.59L535.08 132.79L536.09 137.41L537.09 141.43L538.1 144.87L539.1 147.76L540.11 150.13L541.11 152.05L542.12 153.57L543.12 154.77L544.13 155.69L545.14 156.39L546.14 156.92L547.15 157.32L548.15 157.62L549.16 157.85L550.16 158.03L551.17 158.17L552.18 158.29L553.18 158.39L554.19 158.48L555.19 158.57L556.2 158.65L557.2 158.73L558.21 158.81L559.22 158.88L560.22 158.96L561.23 159.03L562.23 159.11L563.24 159.18L564.24 159.25L565.25 159.33L566.25 159.4L567.26 159.48L568.27 159.55L569.27 159.63L570.28 159.7L571.28 159.78L572.29 159.85L573.29 159.93L574.3 160M449.6 146.8L450.61 146.8L451.61 146.8L452.62 146.8L453.62 146.8L454.63 146.8L455.63 146.8L456.64 146.8L457.65 146.8L458.65 146.8L459.66 146.8L460.66 146.8L461.67 146.8L462.67 146.8L463.68 146.8L464.68 146.8L465.69 146.8L466.7 146.8L467.7 146.8L468.71 146.8L469.71 146.8L470.72 146.8L471.72 146.8L472.73 146.8L473.74 146.8L474.74 146.8L475.75 146.8L476.75 146.8L477.76 146.79L478.76 146.79L479.77 146.78L480.78 146.78L481.78 146.76L482.79 146.75L483.79 146.72L484.8 146.68L485.8 146.63L486.81 146.56L487.81 146.46L488.82 146.32L489.83 146.13L490.83 145.88L491.84 145.55L492.84 145.11L493.85 144.55L494.85 143.84L495.86 142.94L496.87 141.81L497.87 140.44L498.88 138.77L499.88 136.77L500.89 134.4L501.89 131.64L502.9 128.47L503.9 124.87L504.91 120.84L505.92 116.4L506.92 111.59L507.93 106.45L508.93 101.06L509.94 95.51L510.94 89.91L511.95 84.38L512.96 79.08L513.96 74.13L514.97 69.7L515.97 65.91L516.98 62.91L517.98 60.78L518.99 59.6L520 59.39L521 60.1L522.01 61.56L523.01 63.87L524.02 67.07L525.02 71.12L526.03 75.95L527.03 81.45L528.04 87.48L529.05 93.88L530.05 100.49L531.06 107.13L532.06 113.64L533.07 119.87L534.07 125.71L535.08 131.06L536.09 135.86L537.09 140.08L538.1 143.71L539.1 146.78L540.11 149.33L541.11 151.41L542.12 153.07L543.12 154.38L544.13 155.39L545.14 156.17L546.14 156.76L547.15 157.2L548.15 157.54L549.16 157.79L550.16 157.99L551.17 158.15L552.18 158.27L553.18 158.38L554.19 158.48L555.19 158.57L556.2 158.65L557.2 158.73L558.21 158.8L559.22 158.88L560.22 158.96L561.23 159.03L562.23 159.11L563.24 159.18L564.24 159.25L565.25 159.33L566.25 159.4L567.26 159.48L568.27 159.55L569.27 159.63L570.28 159.7L571.28 159.78L572.29 159.85L573.29 159.93L574.3 160M449.6 147.35L450.61 147.35L451.61 147.35L452.62 147.35L453.62 147.35L454.63 147.35L455.63 147.35L456.64 147.35L457.65 147.35L458.65 147.35L459.66 147.35L460.66 147.35L461.67 147.35L462.67 147.35L463.68 147.35L464.68 147.35L465.69 147.35L466.7 147.35L467.7 147.35L468.71 147.35L469.71 147.35L470.72 147.35L471.72 147.35L472.73 147.35L473.74 147.35L474.74 147.35L475.75 147.35L476.75 147.35L477.76 147.34L478.76 147.34L479.77 147.34L480.78 147.33L481.78 147.32L482.79 147.3L483.79 147.28L484.8 147.25L485.8 147.2L486.81 147.13L487.81 147.04L488.82 146.91L489.83 146.74L490.83 146.51L491.84 146.2L492.84 145.8L493.85 145.27L494.85 144.61L495.86 143.76L496.87 142.71L497.87 141.42L498.88 139.84L499.88 137.95L500.89 135.7L501.89 133.07L502.9 130.04L503.9 126.59L504.91 122.72L505.92 118.43L506.92 113.77L507.93 108.77L508.93 103.51L509.94 98.06L510.94 92.54L511.95 87.06L512.96 81.76L513.96 76.78L514.97 72.27L515.97 68.36L516.98 65.2L517.98 62.87L518.99 61.46L520 61L521 61.48L522.01 62.71L523.01 64.76L524.02 67.69L525.02 71.47L526.03 76.04L527.03 81.31L528.04 87.13L529.05 93.36L530.05 99.83L531.06 106.38L532.06 112.84L533.07 119.05L534.07 124.9L535.08 130.29L536.09 135.15L537.09 139.44L538.1 143.15L539.1 146.31L540.11 148.93L541.11 151.08L542.12 152.81L543.12 154.17L544.13 155.24L545.14 156.05L546.14 156.67L547.15 157.14L548.15 157.5L549.16 157.76L550.16 157.97L551.17 158.13L552.18 158.27L553.18 158.38L554.19 158.47L555.19 158.56L556.2 158.65L557.2 158.73L558.21 158.8L559.22 158.88L560.22 158.96L561.23 159.03L562.23 159.11L563.24 159.18L564.24 159.25L565.25 159.33L566.25 159.4L567.26 159.48L568.27 159.55L569.27 159.63L570.28 159.7L571.28 159.78L572.29 159.85L573.29 159.93L574.3 160M449.6 147.9L450.61 147.9L451.61 147.9L452.62 147.9L453.62 147.9L454.63 147.9L455.63 147.9L456.64 147.9L457.65 147.9L458.65 147.9L459.66 147.9L460.66 147.9L461.67 147.9L462.67 147.9L463.68 147.9L464.68 147.9L465.69 147.9L466.7 147.9L467.7 147.9L468.71 147.9L469.71 147.9L470.72 147.9L471.72 147.9L472.73 147.9L473.74 147.9L474.74 147.9L475.75 147.9L476.75 147.9L477.76 147.9L478.76 147.89L479.77 147.89L480.78 147.88L481.78 147.87L482.79 147.86L483.79 147.84L484.8 147.81L485.8 147.76L486.81 147.7L487.81 147.62L488.82 147.5L489.83 147.35L490.83 147.13L491.84 146.85L492.84 146.48L493.85 146L494.85 145.38L495.86 144.6L496.87 143.62L497.87 142.41L498.88 140.93L499.88 139.15L500.89 137.03L501.89 134.55L502.9 131.67L503.9 128.39L504.91 124.69L505.92 120.59L506.92 116.1L507.93 111.28L508.93 106.17L509.94 100.87L510.94 95.46L511.95 90.07L512.96 84.83L513.96 79.86L514.97 75.31L515.97 71.33L516.98 68.03L517.98 65.53L518.99 63.91L520 63.23L521 63.47L522.01 64.48L523.01 66.27L524.02 68.92L525.02 72.42L526.03 76.71L527.03 81.7L528.04 87.28L529.05 93.29L530.05 99.59L531.06 105.99L532.06 112.34L533.07 118.5L534.07 124.32L535.08 129.7L536.09 134.58L537.09 138.91L538.1 142.68L539.1 145.89L540.11 148.58L541.11 150.79L542.12 152.57L543.12 153.98L544.13 155.09L545.14 155.94L546.14 156.59L547.15 157.08L548.15 157.45L549.16 157.73L550.16 157.95L551.17 158.12L552.18 158.26L553.18 158.37L554.19 158.47L555.19 158.56L556.2 158.65L557.2 158.73L558.21 158.8L559.22 158.88L560.22 158.96L561.23 159.03L562.23 159.11L563.24 159.18L564.24 159.25L565.25 159.33L566.25 159.4L567.26 159.48L568.27 159.55L569.27 159.63L570.28 159.7L571.28 159.78L572.29 159.85L573.29 159.93L574.3 160M449.6 148.45L450.61 148.45L451.61 148.45L452.62 148.45L453.62 148.45L454.63 148.45L455.63 148.45L456.64 148.45L457.65 148.45L458.65 148.45L459.66 148.45L460.66 148.45L461.67 148.45L462.67 148.45L463.68 148.45L464.68 148.45L465.69 148.45L466.7 148.45L467.7 148.45L468.71 148.45L469.71 148.45L470.72 148.45L471.72 148.45L472.73 148.45L473.74 148.45L474.74 148.45L475.75 148.45L476.75 148.45L477.76 148.45L478.76 148.44L479.77 148.44L480.78 148.44L481.78 148.43L482.79 148.42L483.79 148.41L484.8 148.39L485.8 148.36L486.81 148.31L487.81 148.25L488.82 148.17L489.83 148.05L490.83 147.9L491.84 147.69L492.84 147.41L493.85 147.05L494.85 146.58L495.86 145.98L496.87 145.22L497.87 144.28L498.88 143.13L499.88 141.72L500.89 140.03L501.89 138.04L502.9 135.7L503.9 133.02L504.91 129.96L505.92 126.54L506.92 122.76L507.93 118.65L508.93 114.26L509.94 109.64L510.94 104.87L511.95 100.05L512.96 95.28L513.96 90.68L514.97 86.38L515.97 82.49L516.98 79.16L517.98 76.47L518.99 74.53L520 73.4L521 73.11L522.01 73.62L523.01 74.78L524.02 76.67L525.02 79.33L526.03 82.73L527.03 86.8L528.04 91.47L529.05 96.61L530.05 102.1L531.06 107.78L532.06 113.5L533.07 119.13L534.07 124.53L535.08 129.61L536.09 134.27L537.09 138.47L538.1 142.16L539.1 145.36L540.11 148.07L541.11 150.32L542.12 152.16L543.12 153.64L544.13 154.81L545.14 155.72L546.14 156.42L547.15 156.95L548.15 157.36L549.16 157.66L550.16 157.9L551.17 158.09L552.18 158.23L553.18 158.36L554.19 158.46L555.19 158.56L556.2 158.64L557.2 158.72L558.21 158.8L559.22 158.88L560.22 158.96L561.23 159.03L562.23 159.11L563.24 159.18L564.24 159.25L565.25 159.33L566.25 159.4L567.26 159.48L568.27 159.55L569.27 159.63L570.28 159.7L571.28 159.78L572.29 159.85L573.29 159.93L574.3 160" stroke="#b3162a" stroke-width="1.15" fill="none" stroke-linejoin="round"/><path d="M444.6 183.1H449.6M444.6 161.1H449.6M444.6 139.1H449.6M444.6 117.1H449.6M444.6 95.1H449.6M444.6 73.1H449.6M444.6 51.1H449.6M444.6 29.1H449.6" stroke="#c4c4c4" stroke-width="1.2" fill="none"/><path d="M449.6 192.2V196.7M458.51 192.2V196.7M467.41 192.2V196.7M476.32 192.2V196.7M485.23 192.2V196.7M494.14 192.2V196.7M503.04 192.2V196.7M511.95 192.2V196.7M520.86 192.2V196.7M529.76 192.2V196.7M538.67 192.2V196.7M547.58 192.2V196.7M556.49 192.2V196.7M565.39 192.2V196.7M574.3 192.2V196.7" stroke="#999" stroke-width="1" fill="none"/><path d="M449.6 19.5V192.2M444.6 19.5H449.6M444.6 192.2H574.3" stroke="#828282" stroke-width="1" fill="none"/><text x="441.6" y="186.1" font-size="8.2" fill="#383838" text-anchor="end">-20k</text><text x="441.6" y="164.1" font-size="8.2" fill="#383838" text-anchor="end">0k</text><text x="441.6" y="142.1" font-size="8.2" fill="#383838" text-anchor="end">20k</text><text x="441.6" y="120.1" font-size="8.2" fill="#383838" text-anchor="end">40k</text><text x="441.6" y="98.1" font-size="8.2" fill="#383838" text-anchor="end">60k</text><text x="441.6" y="76.1" font-size="8.2" fill="#383838" text-anchor="end">80k</text><text x="441.6" y="54.1" font-size="8.2" fill="#383838" text-anchor="end">100k</text><text x="441.6" y="32.1" font-size="8.2" fill="#383838" text-anchor="end">120k</text><text x="449.6" y="204.9" font-size="8.6" fill="#383838" text-anchor="middle" textLength="8.7" lengthAdjust="spacingAndGlyphs">72</text><text x="458.51" y="204.9" font-size="8.6" fill="#383838" text-anchor="middle" textLength="8.7" lengthAdjust="spacingAndGlyphs">73</text><text x="467.41" y="204.9" font-size="8.6" fill="#383838" text-anchor="middle" textLength="8.7" lengthAdjust="spacingAndGlyphs">74</text><text x="476.32" y="204.9" font-size="8.6" fill="#383838" text-anchor="middle" textLength="8.7" lengthAdjust="spacingAndGlyphs">75</text><text x="485.23" y="204.9" font-size="8.6" fill="#383838" text-anchor="middle" textLength="8.7" lengthAdjust="spacingAndGlyphs">76</text><text x="494.14" y="204.9" font-size="8.6" fill="#383838" text-anchor="middle" textLength="8.7" lengthAdjust="spacingAndGlyphs">77</text><text x="503.04" y="204.9" font-size="8.6" fill="#383838" text-anchor="middle" textLength="8.7" lengthAdjust="spacingAndGlyphs">78</text><text x="511.95" y="204.9" font-size="8.6" fill="#383838" text-anchor="middle" textLength="8.7" lengthAdjust="spacingAndGlyphs">79</text><text x="520.86" y="204.9" font-size="8.6" fill="#383838" text-anchor="middle" textLength="8.7" lengthAdjust="spacingAndGlyphs">80</text><text x="529.76" y="204.9" font-size="8.6" fill="#383838" text-anchor="middle" textLength="8.7" lengthAdjust="spacingAndGlyphs">81</text><text x="538.67" y="204.9" font-size="8.6" fill="#383838" text-anchor="middle" textLength="8.7" lengthAdjust="spacingAndGlyphs">82</text><text x="547.58" y="204.9" font-size="8.6" fill="#383838" text-anchor="middle" textLength="8.7" lengthAdjust="spacingAndGlyphs">83</text><text x="556.49" y="204.9" font-size="8.6" fill="#383838" text-anchor="middle" textLength="8.7" lengthAdjust="spacingAndGlyphs">84</text><text x="565.39" y="204.9" font-size="8.6" fill="#383838" text-anchor="middle" textLength="8.7" lengthAdjust="spacingAndGlyphs">85</text><text x="574.3" y="204.9" font-size="8.6" fill="#383838" text-anchor="middle" textLength="8.7" lengthAdjust="spacingAndGlyphs">86</text><text x="463.5" y="12.9" font-size="13.5" font-weight="bold" fill="#111" stroke="#111" stroke-width="0.25" textLength="96.2" lengthAdjust="spacingAndGlyphs">Melt Curve Plot</text><text x="458.3" y="52.7" font-size="14.24" font-weight="bold" fill="#000" stroke="#000" stroke-width="0.35" textLength="41.8" lengthAdjust="spacingAndGlyphs">CYP28</text><text transform="translate(415.1 151.8) rotate(-90)" font-size="11" fill="#4a4a4a" textLength="92.4" lengthAdjust="spacingAndGlyphs">Derivative Reporter</text></g>
<g><path d="M662.26 19.7V192.2M679.99 19.7V192.2M697.72 19.7V192.2M715.45 19.7V192.2M733.18 19.7V192.2M750.91 19.7V192.2M768.64 19.7V192.2M653.4 177.7H777.5M653.4 150.3H777.5M653.4 122.9H777.5M653.4 95.5H777.5M653.4 68.1H777.5M653.4 40.7H777.5" stroke="#d0d0d0" stroke-width="1" fill="none"/><path d="M653.4 130.43L654.4 130.43L655.4 130.43L656.4 130.43L657.4 130.43L658.4 130.43L659.4 130.43L660.41 130.43L661.41 130.43L662.41 130.42L663.41 130.42L664.41 130.41L665.41 130.41L666.41 130.4L667.41 130.39L668.41 130.38L669.41 130.36L670.41 130.35L671.41 130.32L672.42 130.29L673.42 130.26L674.42 130.21L675.42 130.16L676.42 130.09L677.42 130.01L678.42 129.91L679.42 129.79L680.42 129.65L681.42 129.48L682.42 129.28L683.42 129.04L684.42 128.76L685.43 128.43L686.43 128.05L687.43 127.6L688.43 127.08L689.43 126.48L690.43 125.8L691.43 125.01L692.43 124.12L693.43 123.11L694.43 121.98L695.43 120.71L696.43 119.29L697.44 117.72L698.44 115.99L699.44 114.1L700.44 112.03L701.44 109.78L702.44 107.36L703.44 104.76L704.44 102L705.44 99.07L706.44 96L707.44 92.79L708.44 89.47L709.45 86.06L710.45 82.59L711.45 79.09L712.45 75.6L713.45 72.16L714.45 68.81L715.45 65.6L716.45 62.59L717.45 59.81L718.45 57.33L719.45 55.19L720.45 53.43L721.45 52.1L722.46 51.23L723.46 50.85L724.46 51L725.46 51.71L726.46 52.8L727.46 54.12L728.46 55.77L729.46 57.81L730.46 60.29L731.46 63.21L732.46 66.61L733.46 70.45L734.47 74.72L735.47 79.37L736.47 84.34L737.47 89.55L738.47 94.91L739.47 100.34L740.47 105.72L741.47 110.99L742.47 116.03L743.47 120.79L744.47 125.2L745.47 129.21L746.48 132.8L747.48 135.95L748.48 138.67L749.48 140.99L750.48 142.91L751.48 144.49L752.48 145.76L753.48 146.76L754.48 147.53L755.48 148.12L756.48 148.56L757.48 148.89L758.48 149.12L759.49 149.28L760.49 149.4L761.49 149.47L762.49 149.52L763.49 149.56L764.49 149.58L765.49 149.59L766.49 149.6L767.49 149.61L768.49 149.61L769.49 149.61L770.49 149.61L771.5 149.61L772.5 149.61L773.5 149.61L774.5 149.61L775.5 149.61L776.5 149.61L777.5 149.61M653.4 131.12L654.4 131.12L655.4 131.12L656.4 131.12L657.4 131.12L658.4 131.12L659.4 131.12L660.41 131.12L661.41 131.11L662.41 131.11L663.41 131.11L664.41 131.11L665.41 131.1L666.41 131.1L667.41 131.09L668.41 131.08L669.41 131.07L670.41 131.06L671.41 131.04L672.42 131.02L673.42 131L674.42 130.96L675.42 130.92L676.42 130.88L677.42 130.81L678.42 130.74L679.42 130.65L680.42 130.54L681.42 130.41L682.42 130.25L683.42 130.06L684.42 129.83L685.43 129.56L686.43 129.24L687.43 128.87L688.43 128.43L689.43 127.92L690.43 127.34L691.43 126.66L692.43 125.88L693.43 125L694.43 124L695.43 122.86L696.43 121.59L697.44 120.17L698.44 118.59L699.44 116.85L700.44 114.93L701.44 112.84L702.44 110.57L703.44 108.13L704.44 105.5L705.44 102.71L706.44 99.76L707.44 96.67L708.44 93.44L709.45 90.12L710.45 86.71L711.45 83.26L712.45 79.8L713.45 76.38L714.45 73.02L715.45 69.8L716.45 66.74L717.45 63.92L718.45 61.37L719.45 59.15L720.45 57.31L721.45 55.88L722.46 54.92L723.46 54.44L724.46 54.49L725.46 55.12L726.46 56.15L727.46 57.4L728.46 58.96L729.46 60.89L730.46 63.24L731.46 66.02L732.46 69.25L733.46 72.92L734.47 77.01L735.47 81.46L736.47 86.23L737.47 91.23L738.47 96.4L739.47 101.63L740.47 106.83L741.47 111.92L742.47 116.81L743.47 121.42L744.47 125.7L745.47 129.61L746.48 133.11L747.48 136.18L748.48 138.85L749.48 141.11L750.48 143L751.48 144.55L752.48 145.8L753.48 146.78L754.48 147.55L755.48 148.13L756.48 148.57L757.48 148.89L758.48 149.12L759.49 149.28L760.49 149.4L761.49 149.47L762.49 149.52L763.49 149.56L764.49 149.58L765.49 149.59L766.49 149.6L767.49 149.61L768.49 149.61L769.49 149.61L770.49 149.61L771.5 149.61L772.5 149.61L773.5 149.61L774.5 149.61L775.5 149.61L776.5 149.61L777.5 149.61M653.4 132.49L654.4 132.49L655.4 132.49L656.4 132.49L657.4 132.49L658.4 132.49L659.4 132.49L660.41 132.49L661.41 132.49L662.41 132.49L663.41 132.49L664.41 132.49L665.41 132.49L666.41 132.49L667.41 132.48L668.41 132.48L669.41 132.48L670.41 132.48L671.41 132.47L672.42 132.46L673.42 132.46L674.42 132.44L675.42 132.43L676.42 132.41L677.42 132.39L678.42 132.36L679.42 132.32L680.42 132.27L681.42 132.21L682.42 132.13L683.42 132.04L684.42 131.92L685.43 131.77L686.43 131.59L687.43 131.38L688.43 131.12L689.43 130.8L690.43 130.43L691.43 129.98L692.43 129.45L693.43 128.83L694.43 128.11L695.43 127.27L696.43 126.3L697.44 125.18L698.44 123.91L699.44 122.47L700.44 120.86L701.44 119.05L702.44 117.04L703.44 114.83L704.44 112.41L705.44 109.78L706.44 106.95L707.44 103.93L708.44 100.73L709.45 97.36L710.45 93.87L711.45 90.27L712.45 86.62L713.45 82.95L714.45 79.31L715.45 75.76L716.45 72.36L717.45 69.17L718.45 66.26L719.45 63.68L720.45 61.51L721.45 59.79L722.46 58.59L723.46 57.93L724.46 57.88L725.46 58.5L726.46 59.48L727.46 60.7L728.46 62.24L729.46 64.15L730.46 66.46L731.46 69.21L732.46 72.39L733.46 76L734.47 80.01L735.47 84.37L736.47 89.03L737.47 93.91L738.47 98.92L739.47 103.99L740.47 109.02L741.47 113.92L742.47 118.62L743.47 123.04L744.47 127.13L745.47 130.84L746.48 134.16L747.48 137.08L748.48 139.59L749.48 141.72L750.48 143.49L751.48 144.94L752.48 146.1L753.48 147.02L754.48 147.72L755.48 148.26L756.48 148.66L757.48 148.96L758.48 149.17L759.49 149.32L760.49 149.42L761.49 149.49L762.49 149.53L763.49 149.56L764.49 149.58L765.49 149.59L766.49 149.6L767.49 149.61L768.49 149.61L769.49 149.61L770.49 149.61L771.5 149.61L772.5 149.61L773.5 149.61L774.5 149.61L775.5 149.61L776.5 149.61L777.5 149.61M653.4 133.17L654.4 133.17L655.4 133.17L656.4 133.17L657.4 133.17L658.4 133.17L659.4 133.17L660.41 133.17L661.41 133.17L662.41 133.17L663.41 133.17L664.41 133.17L665.41 133.17L666.41 133.17L667.41 133.17L668.41 133.17L669.41 133.17L670.41 133.16L671.41 133.16L672.42 133.15L673.42 133.14L674.42 133.13L675.42 133.12L676.42 133.1L677.42 133.08L678.42 133.05L679.42 133.02L680.42 132.97L681.42 132.91L682.42 132.84L683.42 132.76L684.42 132.65L685.43 132.51L686.43 132.35L687.43 132.14L688.43 131.9L689.43 131.61L690.43 131.26L691.43 130.84L692.43 130.35L693.43 129.77L694.43 129.09L695.43 128.3L696.43 127.39L697.44 126.34L698.44 125.14L699.44 123.79L700.44 122.26L701.44 120.55L702.44 118.65L703.44 116.56L704.44 114.26L705.44 111.77L706.44 109.08L707.44 106.2L708.44 103.14L709.45 99.93L710.45 96.59L711.45 93.14L712.45 89.62L713.45 86.09L714.45 82.57L715.45 79.13L716.45 75.83L717.45 72.72L718.45 69.86L719.45 67.32L720.45 65.15L721.45 63.41L722.46 62.16L723.46 61.43L724.46 61.27L725.46 61.74L726.46 62.66L727.46 63.78L728.46 65.2L729.46 66.97L730.46 69.13L731.46 71.7L732.46 74.69L733.46 78.09L734.47 81.88L735.47 86.03L736.47 90.46L737.47 95.13L738.47 99.94L739.47 104.82L740.47 109.67L741.47 114.42L742.47 118.98L743.47 123.29L744.47 127.29L745.47 130.93L746.48 134.2L747.48 137.07L748.48 139.56L749.48 141.68L750.48 143.44L751.48 144.89L752.48 146.05L753.48 146.97L754.48 147.69L755.48 148.23L756.48 148.64L757.48 148.94L758.48 149.15L759.49 149.3L760.49 149.41L761.49 149.48L762.49 149.53L763.49 149.56L764.49 149.58L765.49 149.59L766.49 149.6L767.49 149.61L768.49 149.61L769.49 149.61L770.49 149.61L771.5 149.61L772.5 149.61L773.5 149.61L774.5 149.61L775.5 149.61L776.5 149.61L777.5 149.61M653.4 133.45L654.4 133.45L655.4 133.45L656.4 133.45L657.4 133.45L658.4 133.45L659.4 133.45L660.41 133.45L661.41 133.45L662.41 133.45L663.41 133.45L664.41 133.45L665.41 133.45L666.41 133.45L667.41 133.44L668.41 133.44L669.41 133.44L670.41 133.44L671.41 133.43L672.42 133.43L673.42 133.42L674.42 133.41L675.42 133.4L676.42 133.38L677.42 133.36L678.42 133.34L679.42 133.3L680.42 133.26L681.42 133.21L682.42 133.14L683.42 133.06L684.42 132.96L685.43 132.83L686.43 132.67L687.43 132.49L688.43 132.26L689.43 131.98L690.43 131.65L691.43 131.26L692.43 130.79L693.43 130.24L694.43 129.6L695.43 128.85L696.43 127.98L697.44 126.99L698.44 125.85L699.44 124.56L700.44 123.1L701.44 121.47L702.44 119.65L703.44 117.65L704.44 115.45L705.44 113.05L706.44 110.46L707.44 107.68L708.44 104.74L709.45 101.63L710.45 98.39L711.45 95.04L712.45 91.62L713.45 88.17L714.45 84.74L715.45 81.36L716.45 78.11L717.45 75.03L718.45 72.2L719.45 69.65L720.45 67.47L721.45 65.69L722.46 64.38L723.46 63.57L724.46 63.31L725.46 63.64L726.46 64.51L727.46 65.56L728.46 66.89L729.46 68.55L730.46 70.59L731.46 73.02L732.46 75.86L733.46 79.11L734.47 82.74L735.47 86.73L736.47 91.01L737.47 95.53L738.47 100.2L739.47 104.96L740.47 109.71L741.47 114.37L742.47 118.87L743.47 123.12L744.47 127.09L745.47 130.72L746.48 133.98L747.48 136.86L748.48 139.36L749.48 141.49L750.48 143.28L751.48 144.75L752.48 145.93L753.48 146.88L754.48 147.61L755.48 148.17L756.48 148.59L757.48 148.9L758.48 149.13L759.49 149.29L760.49 149.4L761.49 149.47L762.49 149.52L763.49 149.56L764.49 149.58L765.49 149.59L766.49 149.6L767.49 149.61L768.49 149.61L769.49 149.61L770.49 149.61L771.5 149.61L772.5 149.61L773.5 149.61L774.5 149.61L775.5 149.61L776.5 149.61L777.5 149.61M653.4 133.17L654.4 133.17L655.4 133.17L656.4 133.17L657.4 133.17L658.4 133.17L659.4 133.17L660.41 133.17L661.41 133.17L662.41 133.17L663.41 133.17L664.41 133.17L665.41 133.17L666.41 133.17L667.41 133.17L668.41 133.17L669.41 133.17L670.41 133.16L671.41 133.16L672.42 133.16L673.42 133.15L674.42 133.14L675.42 133.13L676.42 133.12L677.42 133.1L678.42 133.08L679.42 133.05L680.42 133.01L681.42 132.96L682.42 132.91L683.42 132.83L684.42 132.74L685.43 132.63L686.43 132.49L687.43 132.33L688.43 132.12L689.43 131.88L690.43 131.58L691.43 131.23L692.43 130.81L693.43 130.31L694.43 129.73L695.43 129.05L696.43 128.27L697.44 127.36L698.44 126.32L699.44 125.14L700.44 123.8L701.44 122.3L702.44 120.62L703.44 118.76L704.44 116.72L705.44 114.49L706.44 112.07L707.44 109.46L708.44 106.69L709.45 103.75L710.45 100.68L711.45 97.49L712.45 94.22L713.45 90.91L714.45 87.59L715.45 84.31L716.45 81.13L717.45 78.1L718.45 75.28L719.45 72.72L720.45 70.48L721.45 68.62L722.46 67.19L723.46 66.24L724.46 65.8L725.46 65.91L726.46 66.63L727.46 67.6L728.46 68.81L729.46 70.31L730.46 72.16L731.46 74.38L732.46 76.98L733.46 79.98L734.47 83.36L735.47 87.09L736.47 91.13L737.47 95.42L738.47 99.89L739.47 104.47L740.47 109.08L741.47 113.64L742.47 118.06L743.47 122.29L744.47 126.25L745.47 129.9L746.48 133.2L747.48 136.14L748.48 138.72L749.48 140.93L750.48 142.79L751.48 144.34L752.48 145.6L753.48 146.61L754.48 147.4L755.48 148.01L756.48 148.47L757.48 148.81L758.48 149.06L759.49 149.24L760.49 149.36L761.49 149.45L762.49 149.51L763.49 149.55L764.49 149.57L765.49 149.59L766.49 149.6L767.49 149.6L768.49 149.61L769.49 149.61L770.49 149.61L771.5 149.61L772.5 149.61L773.5 149.61L774.5 149.61L775.5 149.61L776.5 149.61L777.5 149.61" stroke="#b3162a" stroke-width="1.15" fill="none" stroke-linejoin="round"/><path d="M648.4 177.7H653.4M648.4 150.3H653.4M648.4 122.9H653.4M648.4 95.5H653.4M648.4 68.1H653.4M648.4 40.7H653.4" stroke="#c4c4c4" stroke-width="1.2" fill="none"/><path d="M653.4 192.2V196.7M662.26 192.2V196.7M671.13 192.2V196.7M679.99 192.2V196.7M688.86 192.2V196.7M697.72 192.2V196.7M706.59 192.2V196.7M715.45 192.2V196.7M724.31 192.2V196.7M733.18 192.2V196.7M742.04 192.2V196.7M750.91 192.2V196.7M759.77 192.2V196.7M768.64 192.2V196.7M777.5 192.2V196.7" stroke="#999" stroke-width="1" fill="none"/><path d="M653.4 19.7V192.2M648.4 19.7H653.4M648.4 192.2H777.5" stroke="#828282" stroke-width="1" fill="none"/><text x="645.4" y="180.7" font-size="8.2" fill="#383838" text-anchor="end">-20k</text><text x="645.4" y="153.3" font-size="8.2" fill="#383838" text-anchor="end">0k</text><text x="645.4" y="125.9" font-size="8.2" fill="#383838" text-anchor="end">20k</text><text x="645.4" y="98.5" font-size="8.2" fill="#383838" text-anchor="end">40k</text><text x="645.4" y="71.1" font-size="8.2" fill="#383838" text-anchor="end">60k</text><text x="645.4" y="43.7" font-size="8.2" fill="#383838" text-anchor="end">80k</text><text x="653.4" y="204.9" font-size="8.6" fill="#383838" text-anchor="middle" textLength="8.7" lengthAdjust="spacingAndGlyphs">73</text><text x="662.26" y="204.9" font-size="8.6" fill="#383838" text-anchor="middle" textLength="8.7" lengthAdjust="spacingAndGlyphs">74</text><text x="671.13" y="204.9" font-size="8.6" fill="#383838" text-anchor="middle" textLength="8.7" lengthAdjust="spacingAndGlyphs">75</text><text x="679.99" y="204.9" font-size="8.6" fill="#383838" text-anchor="middle" textLength="8.7" lengthAdjust="spacingAndGlyphs">76</text><text x="688.86" y="204.9" font-size="8.6" fill="#383838" text-anchor="middle" textLength="8.7" lengthAdjust="spacingAndGlyphs">77</text><text x="697.72" y="204.9" font-size="8.6" fill="#383838" text-anchor="middle" textLength="8.7" lengthAdjust="spacingAndGlyphs">78</text><text x="706.59" y="204.9" font-size="8.6" fill="#383838" text-anchor="middle" textLength="8.7" lengthAdjust="spacingAndGlyphs">79</text><text x="715.45" y="204.9" font-size="8.6" fill="#383838" text-anchor="middle" textLength="8.7" lengthAdjust="spacingAndGlyphs">80</text><text x="724.31" y="204.9" font-size="8.6" fill="#383838" text-anchor="middle" textLength="8.7" lengthAdjust="spacingAndGlyphs">81</text><text x="733.18" y="204.9" font-size="8.6" fill="#383838" text-anchor="middle" textLength="8.7" lengthAdjust="spacingAndGlyphs">82</text><text x="742.04" y="204.9" font-size="8.6" fill="#383838" text-anchor="middle" textLength="8.7" lengthAdjust="spacingAndGlyphs">83</text><text x="750.91" y="204.9" font-size="8.6" fill="#383838" text-anchor="middle" textLength="8.7" lengthAdjust="spacingAndGlyphs">84</text><text x="759.77" y="204.9" font-size="8.6" fill="#383838" text-anchor="middle" textLength="8.7" lengthAdjust="spacingAndGlyphs">85</text><text x="768.64" y="204.9" font-size="8.6" fill="#383838" text-anchor="middle" textLength="8.7" lengthAdjust="spacingAndGlyphs">86</text><text x="777.5" y="204.9" font-size="8.6" fill="#383838" text-anchor="middle" textLength="8.7" lengthAdjust="spacingAndGlyphs">87</text><text x="665.8" y="12.9" font-size="13.5" font-weight="bold" fill="#111" stroke="#111" stroke-width="0.25" textLength="97.2" lengthAdjust="spacingAndGlyphs">Melt Curve Plot</text><text x="661.4" y="54.4" font-size="13.94" font-weight="bold" fill="#000" stroke="#000" stroke-width="0.35" textLength="32.9" lengthAdjust="spacingAndGlyphs">EF1A</text><text transform="translate(619.2 151.8) rotate(-90)" font-size="11" fill="#4a4a4a" textLength="92.4" lengthAdjust="spacingAndGlyphs">Derivative Reporter</text></g>
<g><path d="M66.67 224.5V396.7M84.94 224.5V396.7M103.21 224.5V396.7M121.49 224.5V396.7M139.76 224.5V396.7M158.03 224.5V396.7M176.3 224.5V396.7M48.4 370.3H176.3M48.4 316H176.3M48.4 261.7H176.3" stroke="#d0d0d0" stroke-width="1" fill="none"/><path d="M48.4 354.01L49.41 354.01L50.41 354.01L51.42 354.01L52.43 354.01L53.44 354.01L54.44 354.01L55.45 354.01L56.46 354.01L57.46 354.01L58.47 354.01L59.48 354.01L60.49 354.01L61.49 354.01L62.5 354.01L63.51 354.01L64.51 354.01L65.52 354.01L66.53 354.01L67.53 354.01L68.54 354.01L69.55 354.01L70.56 354.01L71.56 354.01L72.57 354.01L73.58 354.01L74.58 354.01L75.59 354.01L76.6 354.01L77.61 354.01L78.61 354.01L79.62 354.01L80.63 354L81.63 354L82.64 354L83.65 353.99L84.66 353.99L85.66 353.98L86.67 353.96L87.68 353.95L88.68 353.93L89.69 353.9L90.7 353.86L91.7 353.81L92.71 353.75L93.72 353.66L94.73 353.56L95.73 353.43L96.74 353.26L97.75 353.05L98.75 352.79L99.76 352.47L100.77 352.07L101.78 351.59L102.78 351L103.79 350.29L104.8 349.44L105.8 348.43L106.81 347.23L107.82 345.82L108.83 344.19L109.83 342.29L110.84 340.13L111.85 337.66L112.85 334.89L113.86 331.79L114.87 328.36L115.87 324.62L116.88 320.56L117.89 316.22L118.9 311.65L119.9 306.89L120.91 302.01L121.92 297.12L122.92 292.31L123.93 287.72L124.94 283.48L125.95 279.78L126.95 276.81L127.96 274.81L128.97 274.23L129.97 275.06L130.98 276.22L131.99 277.84L133 280.01L134 282.77L135.01 286.16L136.02 290.15L137.02 294.71L138.03 299.77L139.04 305.24L140.04 311.02L141.05 316.96L142.06 322.95L143.07 328.85L144.07 334.54L145.08 339.9L146.09 344.86L147.09 349.34L148.1 353.31L149.11 356.76L150.12 359.68L151.12 362.11L152.13 364.09L153.14 365.67L154.14 366.89L155.15 367.83L156.16 368.53L157.17 369.05L158.17 369.41L159.18 369.67L160.19 369.85L161.19 369.96L162.2 370.04L163.21 370.09L164.21 370.13L165.22 370.15L166.23 370.16L167.24 370.17L168.24 370.18L169.25 370.18L170.26 370.18L171.26 370.18L172.27 370.19L173.28 370.19L174.29 370.19L175.29 370.19L176.3 370.19M48.4 355.1L49.41 355.1L50.41 355.1L51.42 355.1L52.43 355.1L53.44 355.1L54.44 355.1L55.45 355.1L56.46 355.1L57.46 355.1L58.47 355.1L59.48 355.1L60.49 355.1L61.49 355.1L62.5 355.1L63.51 355.1L64.51 355.1L65.52 355.1L66.53 355.1L67.53 355.1L68.54 355.1L69.55 355.1L70.56 355.1L71.56 355.1L72.57 355.1L73.58 355.1L74.58 355.1L75.59 355.1L76.6 355.1L77.61 355.09L78.61 355.09L79.62 355.09L80.63 355.09L81.63 355.09L82.64 355.09L83.65 355.08L84.66 355.08L85.66 355.07L86.67 355.06L87.68 355.05L88.68 355.03L89.69 355.01L90.7 354.98L91.7 354.94L92.71 354.89L93.72 354.83L94.73 354.75L95.73 354.64L96.74 354.51L97.75 354.35L98.75 354.14L99.76 353.88L100.77 353.56L101.78 353.16L102.78 352.68L103.79 352.1L104.8 351.39L105.8 350.54L106.81 349.54L107.82 348.35L108.83 346.96L109.83 345.34L110.84 343.46L111.85 341.32L112.85 338.89L113.86 336.14L114.87 333.09L115.87 329.71L116.88 326.01L117.89 322.02L118.9 317.75L119.9 313.26L120.91 308.58L121.92 303.81L122.92 299.02L123.93 294.32L124.94 289.84L125.95 285.72L126.95 282.14L127.96 279.29L128.97 277.41L129.97 277L130.98 277.8L131.99 278.94L133 280.54L134 282.68L135.01 285.4L136.02 288.73L137.02 292.66L138.03 297.13L139.04 302.09L140.04 307.45L141.05 313.09L142.06 318.89L143.07 324.71L144.07 330.44L145.08 335.96L146.09 341.15L147.09 345.94L148.1 350.26L149.11 354.08L150.12 357.39L151.12 360.19L152.13 362.52L153.14 364.41L154.14 365.91L155.15 367.08L156.16 367.97L157.17 368.63L158.17 369.12L159.18 369.46L160.19 369.7L161.19 369.87L162.2 369.98L163.21 370.05L164.21 370.1L165.22 370.13L166.23 370.15L167.24 370.16L168.24 370.17L169.25 370.18L170.26 370.18L171.26 370.18L172.27 370.18L173.28 370.19L174.29 370.19L175.29 370.19L176.3 370.19M48.4 356.73L49.41 356.73L50.41 356.73L51.42 356.73L52.43 356.73L53.44 356.73L54.44 356.73L55.45 356.73L56.46 356.73L57.46 356.73L58.47 356.73L59.48 356.73L60.49 356.73L61.49 356.73L62.5 356.73L63.51 356.73L64.51 356.73L65.52 356.73L66.53 356.73L67.53 356.73L68.54 356.73L69.55 356.73L70.56 356.73L71.56 356.73L72.57 356.73L73.58 356.72L74.58 356.72L75.59 356.72L76.6 356.72L77.61 356.72L78.61 356.72L79.62 356.72L80.63 356.72L81.63 356.72L82.64 356.72L83.65 356.72L84.66 356.71L85.66 356.71L86.67 356.7L87.68 356.69L88.68 356.68L89.69 356.66L90.7 356.64L91.7 356.61L92.71 356.57L93.72 356.52L94.73 356.46L95.73 356.38L96.74 356.28L97.75 356.15L98.75 355.98L99.76 355.78L100.77 355.52L101.78 355.21L102.78 354.82L103.79 354.35L104.8 353.77L105.8 353.08L106.81 352.25L107.82 351.26L108.83 350.1L109.83 348.74L110.84 347.15L111.85 345.33L112.85 343.23L113.86 340.86L114.87 338.19L115.87 335.21L116.88 331.93L117.89 328.34L118.9 324.46L119.9 320.33L120.91 315.97L121.92 311.45L122.92 306.84L123.93 302.22L124.94 297.69L125.95 293.39L126.95 289.46L127.96 286.05L128.97 283.36L129.97 281.64L130.98 281.4L131.99 282.15L133 283.24L134 284.78L135.01 286.85L136.02 289.49L137.02 292.71L138.03 296.5L139.04 300.82L140.04 305.6L141.05 310.75L142.06 316.16L143.07 321.71L144.07 327.28L145.08 332.74L146.09 337.99L147.09 342.92L148.1 347.46L149.11 351.54L150.12 355.15L151.12 358.26L152.13 360.89L153.14 363.07L154.14 364.84L155.15 366.24L156.16 367.32L157.17 368.15L158.17 368.76L159.18 369.21L160.19 369.53L161.19 369.75L162.2 369.9L163.21 370L164.21 370.07L165.22 370.11L166.23 370.14L167.24 370.16L168.24 370.17L169.25 370.17L170.26 370.18L171.26 370.18L172.27 370.18L173.28 370.19L174.29 370.19L175.29 370.19L176.3 370.19" stroke="#b3162a" stroke-width="1.15" fill="none" stroke-linejoin="round"/><path d="M43.4 370.3H48.4M43.4 316H48.4M43.4 261.7H48.4" stroke="#c4c4c4" stroke-width="1.2" fill="none"/><path d="M48.4 396.7V401.2M57.54 396.7V401.2M66.67 396.7V401.2M75.81 396.7V401.2M84.94 396.7V401.2M94.08 396.7V401.2M103.21 396.7V401.2M112.35 396.7V401.2M121.49 396.7V401.2M130.62 396.7V401.2M139.76 396.7V401.2M148.89 396.7V401.2M158.03 396.7V401.2M167.16 396.7V401.2M176.3 396.7V401.2" stroke="#999" stroke-width="1" fill="none"/><path d="M48.4 224.5V396.7M43.4 224.5H48.4M43.4 396.7H176.3" stroke="#828282" stroke-width="1" fill="none"/><text x="40.4" y="373.3" font-size="8.2" fill="#383838" text-anchor="end">0k</text><text x="40.4" y="319" font-size="8.2" fill="#383838" text-anchor="end">50k</text><text x="40.4" y="264.7" font-size="8.2" fill="#383838" text-anchor="end">100k</text><text x="48.4" y="410.6" font-size="8.6" fill="#383838" text-anchor="middle" textLength="8.7" lengthAdjust="spacingAndGlyphs">74</text><text x="57.54" y="410.6" font-size="8.6" fill="#383838" text-anchor="middle" textLength="8.7" lengthAdjust="spacingAndGlyphs">75</text><text x="66.67" y="410.6" font-size="8.6" fill="#383838" text-anchor="middle" textLength="8.7" lengthAdjust="spacingAndGlyphs">76</text><text x="75.81" y="410.6" font-size="8.6" fill="#383838" text-anchor="middle" textLength="8.7" lengthAdjust="spacingAndGlyphs">77</text><text x="84.94" y="410.6" font-size="8.6" fill="#383838" text-anchor="middle" textLength="8.7" lengthAdjust="spacingAndGlyphs">78</text><text x="94.08" y="410.6" font-size="8.6" fill="#383838" text-anchor="middle" textLength="8.7" lengthAdjust="spacingAndGlyphs">79</text><text x="103.21" y="410.6" font-size="8.6" fill="#383838" text-anchor="middle" textLength="8.7" lengthAdjust="spacingAndGlyphs">80</text><text x="112.35" y="410.6" font-size="8.6" fill="#383838" text-anchor="middle" textLength="8.7" lengthAdjust="spacingAndGlyphs">81</text><text x="121.49" y="410.6" font-size="8.6" fill="#383838" text-anchor="middle" textLength="8.7" lengthAdjust="spacingAndGlyphs">82</text><text x="130.62" y="410.6" font-size="8.6" fill="#383838" text-anchor="middle" textLength="8.7" lengthAdjust="spacingAndGlyphs">83</text><text x="139.76" y="410.6" font-size="8.6" fill="#383838" text-anchor="middle" textLength="8.7" lengthAdjust="spacingAndGlyphs">84</text><text x="148.89" y="410.6" font-size="8.6" fill="#383838" text-anchor="middle" textLength="8.7" lengthAdjust="spacingAndGlyphs">85</text><text x="158.03" y="410.6" font-size="8.6" fill="#383838" text-anchor="middle" textLength="8.7" lengthAdjust="spacingAndGlyphs">86</text><text x="167.16" y="410.6" font-size="8.6" fill="#383838" text-anchor="middle" textLength="8.7" lengthAdjust="spacingAndGlyphs">87</text><text x="176.3" y="410.6" font-size="8.6" fill="#383838" text-anchor="middle" textLength="8.7" lengthAdjust="spacingAndGlyphs">88</text><text x="58.1" y="257.4" font-size="14.24" font-weight="bold" fill="#000" stroke="#000" stroke-width="0.35" textLength="36.9" lengthAdjust="spacingAndGlyphs">GAPC</text><text transform="translate(14.1 357.1) rotate(-90)" font-size="11" fill="#4a4a4a" textLength="92.8" lengthAdjust="spacingAndGlyphs">Derivative Reporter</text></g>
<g><path d="M266 226.3V398.3M284.9 226.3V398.3M303.8 226.3V398.3M322.7 226.3V398.3M341.6 226.3V398.3M360.5 226.3V398.3M379.4 226.3V398.3M247.1 386.7H379.4M247.1 334.1H379.4M247.1 281.5H379.4M247.1 228.9H379.4" stroke="#d0d0d0" stroke-width="1" fill="none"/><path d="M247.1 370.68L248.1 370.66L249.1 370.65L250.11 370.63L251.11 370.6L252.11 370.57L253.11 370.52L254.12 370.47L255.12 370.42L256.12 370.35L257.12 370.27L258.13 370.19L259.13 370.1L260.13 370.01L261.13 369.91L262.13 369.81L263.14 369.72L264.14 369.64L265.14 369.56L266.14 369.5L267.15 369.45L268.15 369.42L269.15 369.41L270.15 369.42L271.15 369.44L272.16 369.47L273.16 369.51L274.16 369.56L275.16 369.62L276.17 369.66L277.17 369.7L278.17 369.73L279.17 369.73L280.18 369.71L281.18 369.65L282.18 369.56L283.18 369.42L284.18 369.24L285.19 368.99L286.19 368.68L287.19 368.3L288.19 367.83L289.2 367.27L290.2 366.6L291.2 365.81L292.2 364.88L293.2 363.8L294.21 362.56L295.21 361.12L296.21 359.49L297.21 357.64L298.22 355.55L299.22 353.2L300.22 350.59L301.22 347.7L302.22 344.52L303.23 341.04L304.23 337.28L305.23 333.23L306.23 328.91L307.24 324.34L308.24 319.56L309.24 314.59L310.24 309.51L311.25 304.36L312.25 299.22L313.25 294.18L314.25 289.32L315.25 284.76L316.26 280.6L317.26 276.95L318.26 273.95L319.26 271.73L320.27 270.45L321.27 270.43L322.27 271.8L323.27 274.19L324.28 277.57L325.28 281.87L326.28 286.98L327.28 292.78L328.28 299.12L329.29 305.86L330.29 312.83L331.29 319.88L332.29 326.87L333.3 333.67L334.3 340.16L335.3 346.25L336.3 351.87L337.3 356.99L338.31 361.56L339.31 365.6L340.31 369.11L341.31 372.11L342.32 374.65L343.32 376.76L344.32 378.5L345.32 379.91L346.32 381.04L347.33 381.94L348.33 382.64L349.33 383.18L350.33 383.59L351.34 383.9L352.34 384.14L353.34 384.31L354.34 384.45L355.35 384.54L356.35 384.62L357.35 384.67L358.35 384.72L359.35 384.75L360.36 384.78L361.36 384.81L362.36 384.83L363.36 384.85L364.37 384.87L365.37 384.89L366.37 384.9L367.37 384.92L368.37 384.94L369.38 384.95L370.38 384.97L371.38 384.99L372.38 385L373.39 385.02L374.39 385.04L375.39 385.06L376.39 385.07L377.4 385.09L378.4 385.11L379.4 385.12M247.1 371.1L248.1 371.09L249.1 371.07L250.11 371.05L251.11 371.02L252.11 370.99L253.11 370.95L254.12 370.9L255.12 370.84L256.12 370.77L257.12 370.7L258.13 370.61L259.13 370.52L260.13 370.43L261.13 370.33L262.13 370.24L263.14 370.14L264.14 370.06L265.14 369.99L266.14 369.92L267.15 369.88L268.15 369.85L269.15 369.84L270.15 369.85L271.15 369.87L272.16 369.91L273.16 369.96L274.16 370.01L275.16 370.07L276.17 370.13L277.17 370.18L278.17 370.22L279.17 370.24L280.18 370.24L281.18 370.21L282.18 370.15L283.18 370.05L284.18 369.91L285.19 369.71L286.19 369.47L287.19 369.16L288.19 368.78L289.2 368.31L290.2 367.76L291.2 367.1L292.2 366.33L293.2 365.43L294.21 364.38L295.21 363.17L296.21 361.79L297.21 360.21L298.22 358.43L299.22 356.42L300.22 354.17L301.22 351.66L302.22 348.9L303.23 345.87L304.23 342.57L305.23 339L306.23 335.16L307.24 331.09L308.24 326.79L309.24 322.31L310.24 317.68L311.25 312.95L312.25 308.19L313.25 303.46L314.25 298.85L315.25 294.44L316.26 290.35L317.26 286.66L318.26 283.49L319.26 280.96L320.27 279.2L321.27 278.37L322.27 278.85L323.27 280.46L324.28 283.01L325.28 286.45L326.28 290.72L327.28 295.69L328.28 301.27L329.29 307.3L330.29 313.64L331.29 320.15L332.29 326.69L333.3 333.13L334.3 339.35L335.3 345.26L336.3 350.78L337.3 355.84L338.31 360.43L339.31 364.51L340.31 368.09L341.31 371.19L342.32 373.83L343.32 376.05L344.32 377.9L345.32 379.41L346.32 380.63L347.33 381.6L348.33 382.37L349.33 382.97L350.33 383.43L351.34 383.78L352.34 384.05L353.34 384.25L354.34 384.4L355.35 384.51L356.35 384.59L357.35 384.66L358.35 384.71L359.35 384.74L360.36 384.78L361.36 384.8L362.36 384.83L363.36 384.85L364.37 384.87L365.37 384.88L366.37 384.9L367.37 384.92L368.37 384.94L369.38 384.95L370.38 384.97L371.38 384.99L372.38 385L373.39 385.02L374.39 385.04L375.39 385.06L376.39 385.07L377.4 385.09L378.4 385.11L379.4 385.12M247.1 371.41L248.1 371.4L249.1 371.38L250.11 371.36L251.11 371.34L252.11 371.3L253.11 371.26L254.12 371.21L255.12 371.15L256.12 371.09L257.12 371.01L258.13 370.93L259.13 370.84L260.13 370.74L261.13 370.65L262.13 370.55L263.14 370.46L264.14 370.38L265.14 370.3L266.14 370.24L267.15 370.2L268.15 370.17L269.15 370.16L270.15 370.17L271.15 370.2L272.16 370.24L273.16 370.29L274.16 370.35L275.16 370.42L276.17 370.48L277.17 370.54L278.17 370.59L279.17 370.63L280.18 370.64L281.18 370.63L282.18 370.6L283.18 370.53L284.18 370.42L285.19 370.27L286.19 370.07L287.19 369.82L288.19 369.51L289.2 369.13L290.2 368.67L291.2 368.12L292.2 367.47L293.2 366.71L294.21 365.83L295.21 364.8L296.21 363.62L297.21 362.26L298.22 360.72L299.22 358.98L300.22 357.03L301.22 354.84L302.22 352.41L303.23 349.73L304.23 346.8L305.23 343.61L306.23 340.17L307.24 336.48L308.24 332.57L309.24 328.45L310.24 324.17L311.25 319.75L312.25 315.26L313.25 310.75L314.25 306.29L315.25 301.96L316.26 297.85L317.26 294.06L318.26 290.68L319.26 287.82L320.27 285.59L321.27 284.13L322.27 283.61L323.27 284.38L324.28 286.13L325.28 288.76L326.28 292.24L327.28 296.46L328.28 301.34L329.29 306.75L330.29 312.56L331.29 318.64L332.29 324.84L333.3 331.04L334.3 337.12L335.3 342.97L336.3 348.5L337.3 353.64L338.31 358.34L339.31 362.59L340.31 366.35L341.31 369.65L342.32 372.49L343.32 374.9L344.32 376.93L345.32 378.6L346.32 379.97L347.33 381.07L348.33 381.95L349.33 382.64L350.33 383.17L351.34 383.59L352.34 383.9L353.34 384.14L354.34 384.32L355.35 384.45L356.35 384.55L357.35 384.63L358.35 384.69L359.35 384.73L360.36 384.77L361.36 384.8L362.36 384.82L363.36 384.84L364.37 384.86L365.37 384.88L366.37 384.9L367.37 384.92L368.37 384.94L369.38 384.95L370.38 384.97L371.38 384.99L372.38 385L373.39 385.02L374.39 385.04L375.39 385.06L376.39 385.07L377.4 385.09L378.4 385.11L379.4 385.12M247.1 371.73L248.1 371.72L249.1 371.7L250.11 371.68L251.11 371.65L252.11 371.62L253.11 371.58L254.12 371.53L255.12 371.47L256.12 371.4L257.12 371.33L258.13 371.24L259.13 371.15L260.13 371.06L261.13 370.96L262.13 370.87L263.14 370.78L264.14 370.69L265.14 370.62L266.14 370.56L267.15 370.52L268.15 370.49L269.15 370.48L270.15 370.49L271.15 370.52L272.16 370.56L273.16 370.62L274.16 370.68L275.16 370.75L276.17 370.82L277.17 370.89L278.17 370.95L279.17 370.99L280.18 371.02L281.18 371.03L282.18 371.01L283.18 370.96L284.18 370.88L285.19 370.77L286.19 370.61L287.19 370.4L288.19 370.14L289.2 369.83L290.2 369.44L291.2 368.98L292.2 368.42L293.2 367.77L294.21 367.02L295.21 366.13L296.21 365.11L297.21 363.94L298.22 362.6L299.22 361.08L300.22 359.36L301.22 357.43L302.22 355.29L303.23 352.91L304.23 350.29L305.23 347.43L306.23 344.32L307.24 340.98L308.24 337.41L309.24 333.64L310.24 329.68L311.25 325.57L312.25 321.35L313.25 317.08L314.25 312.81L315.25 308.62L316.26 304.58L317.26 300.78L318.26 297.31L319.26 294.26L320.27 291.75L321.27 289.87L322.27 288.76L323.27 288.65L324.28 289.75L325.28 291.71L326.28 294.49L327.28 298.04L328.28 302.28L329.29 307.1L330.29 312.39L331.29 318.01L332.29 323.84L333.3 329.74L334.3 335.61L335.3 341.32L336.3 346.79L337.3 351.93L338.31 356.69L339.31 361.02L340.31 364.9L341.31 368.33L342.32 371.32L343.32 373.88L344.32 376.05L345.32 377.87L346.32 379.36L347.33 380.57L348.33 381.55L349.33 382.32L350.33 382.93L351.34 383.4L352.34 383.76L353.34 384.03L354.34 384.24L355.35 384.39L356.35 384.51L357.35 384.6L358.35 384.67L359.35 384.72L360.36 384.76L361.36 384.79L362.36 384.82L363.36 384.84L364.37 384.86L365.37 384.88L366.37 384.9L367.37 384.92L368.37 384.94L369.38 384.95L370.38 384.97L371.38 384.99L372.38 385L373.39 385.02L374.39 385.04L375.39 385.05L376.39 385.07L377.4 385.09L378.4 385.11L379.4 385.12" stroke="#b3162a" stroke-width="1.15" fill="none" stroke-linejoin="round"/><path d="M242.1 386.7H247.1M242.1 334.1H247.1M242.1 281.5H247.1M242.1 228.9H247.1" stroke="#c4c4c4" stroke-width="1.2" fill="none"/><path d="M247.1 398.3V402.8M256.55 398.3V402.8M266 398.3V402.8M275.45 398.3V402.8M284.9 398.3V402.8M294.35 398.3V402.8M303.8 398.3V402.8M313.25 398.3V402.8M322.7 398.3V402.8M332.15 398.3V402.8M341.6 398.3V402.8M351.05 398.3V402.8M360.5 398.3V402.8M369.95 398.3V402.8M379.4 398.3V402.8" stroke="#999" stroke-width="1" fill="none"/><path d="M247.1 226.3V398.3M242.1 226.3H247.1M242.1 398.3H379.4" stroke="#828282" stroke-width="1" fill="none"/><text x="239.1" y="389.7" font-size="8.2" fill="#383838" text-anchor="end">0k</text><text x="239.1" y="337.1" font-size="8.2" fill="#383838" text-anchor="end">50k</text><text x="239.1" y="284.5" font-size="8.2" fill="#383838" text-anchor="end">100k</text><text x="239.1" y="231.9" font-size="8.2" fill="#383838" text-anchor="end">150k</text><text x="247.1" y="412.1" font-size="8.6" fill="#383838" text-anchor="middle" textLength="8.7" lengthAdjust="spacingAndGlyphs">72</text><text x="256.55" y="412.1" font-size="8.6" fill="#383838" text-anchor="middle" textLength="8.7" lengthAdjust="spacingAndGlyphs">73</text><text x="266" y="412.1" font-size="8.6" fill="#383838" text-anchor="middle" textLength="8.7" lengthAdjust="spacingAndGlyphs">74</text><text x="275.45" y="412.1" font-size="8.6" fill="#383838" text-anchor="middle" textLength="8.7" lengthAdjust="spacingAndGlyphs">75</text><text x="284.9" y="412.1" font-size="8.6" fill="#383838" text-anchor="middle" textLength="8.7" lengthAdjust="spacingAndGlyphs">76</text><text x="294.35" y="412.1" font-size="8.6" fill="#383838" text-anchor="middle" textLength="8.7" lengthAdjust="spacingAndGlyphs">77</text><text x="303.8" y="412.1" font-size="8.6" fill="#383838" text-anchor="middle" textLength="8.7" lengthAdjust="spacingAndGlyphs">78</text><text x="313.25" y="412.1" font-size="8.6" fill="#383838" text-anchor="middle" textLength="8.7" lengthAdjust="spacingAndGlyphs">79</text><text x="322.7" y="412.1" font-size="8.6" fill="#383838" text-anchor="middle" textLength="8.7" lengthAdjust="spacingAndGlyphs">80</text><text x="332.15" y="412.1" font-size="8.6" fill="#383838" text-anchor="middle" textLength="8.7" lengthAdjust="spacingAndGlyphs">81</text><text x="341.6" y="412.1" font-size="8.6" fill="#383838" text-anchor="middle" textLength="8.7" lengthAdjust="spacingAndGlyphs">82</text><text x="351.05" y="412.1" font-size="8.6" fill="#383838" text-anchor="middle" textLength="8.7" lengthAdjust="spacingAndGlyphs">83</text><text x="360.5" y="412.1" font-size="8.6" fill="#383838" text-anchor="middle" textLength="8.7" lengthAdjust="spacingAndGlyphs">84</text><text x="369.95" y="412.1" font-size="8.6" fill="#383838" text-anchor="middle" textLength="8.7" lengthAdjust="spacingAndGlyphs">85</text><text x="379.4" y="412.1" font-size="8.6" fill="#383838" text-anchor="middle" textLength="8.7" lengthAdjust="spacingAndGlyphs">86</text><text x="256.7" y="257.7" font-size="14.24" font-weight="bold" fill="#000" stroke="#000" stroke-width="0.35" textLength="50.9" lengthAdjust="spacingAndGlyphs">RPL23A</text><text transform="translate(213.7 358.2) rotate(-90)" font-size="11" fill="#4a4a4a" textLength="92.9" lengthAdjust="spacingAndGlyphs">Derivative Reporter</text></g>
<g><path d="M469.06 226.8V399M486.91 226.8V399M504.77 226.8V399M522.63 226.8V399M540.49 226.8V399M558.34 226.8V399M576.2 226.8V399M451.2 381.2H576.2M451.2 353.85H576.2M451.2 326.5H576.2M451.2 299.15H576.2M451.2 271.8H576.2M451.2 244.45H576.2" stroke="#d0d0d0" stroke-width="1" fill="none"/><path d="M451.2 364.52L452.2 364.52L453.2 364.52L454.2 364.52L455.2 364.52L456.2 364.52L457.2 364.52L458.2 364.52L459.2 364.52L460.2 364.52L461.2 364.52L462.2 364.52L463.2 364.52L464.2 364.52L465.2 364.52L466.2 364.52L467.2 364.52L468.2 364.52L469.2 364.52L470.2 364.51L471.2 364.51L472.2 364.51L473.2 364.51L474.2 364.51L475.2 364.5L476.2 364.5L477.2 364.49L478.2 364.48L479.2 364.46L480.2 364.44L481.2 364.41L482.2 364.37L483.2 364.32L484.2 364.24L485.2 364.14L486.2 364.01L487.2 363.84L488.2 363.62L489.2 363.34L490.2 362.98L491.2 362.53L492.2 361.97L493.2 361.28L494.2 360.42L495.2 359.39L496.2 358.16L497.2 356.69L498.2 354.96L499.2 352.94L500.2 350.62L501.2 347.97L502.2 344.99L503.2 341.66L504.2 337.99L505.2 334L506.2 329.7L507.2 325.14L508.2 320.38L509.2 315.46L510.2 310.49L511.2 305.54L512.2 300.72L513.2 296.15L514.2 291.94L515.2 288.21L516.2 285.08L517.2 282.63L518.2 280.96L519.2 280.11L520.2 280.12L521.2 281L522.2 282.94L523.2 285.9L524.2 289.73L525.2 294.29L526.2 299.43L527.2 305.02L528.2 310.92L529.2 316.99L530.2 323.11L531.2 329.15L532.2 335.02L533.2 340.63L534.2 345.9L535.2 350.79L536.2 355.25L537.2 359.26L538.2 362.84L539.2 365.97L540.2 368.68L541.2 371L542.2 372.96L543.2 374.59L544.2 375.94L545.2 377.04L546.2 377.93L547.2 378.64L548.2 379.2L549.2 379.63L550.2 379.96L551.2 380.22L552.2 380.41L553.2 380.56L554.2 380.66L555.2 380.74L556.2 380.8L557.2 380.84L558.2 380.86L559.2 380.88L560.2 380.9L561.2 380.91L562.2 380.91L563.2 380.92L564.2 380.92L565.2 380.92L566.2 380.92L567.2 380.93L568.2 380.93L569.2 380.93L570.2 380.93L571.2 380.93L572.2 380.93L573.2 380.93L574.2 380.93L575.2 380.93L576.2 380.93M451.2 364.79L452.2 364.79L453.2 364.79L454.2 364.79L455.2 364.79L456.2 364.79L457.2 364.79L458.2 364.79L459.2 364.79L460.2 364.79L461.2 364.79L462.2 364.79L463.2 364.79L464.2 364.79L465.2 364.79L466.2 364.79L467.2 364.79L468.2 364.79L469.2 364.79L470.2 364.79L471.2 364.79L472.2 364.78L473.2 364.78L474.2 364.77L475.2 364.77L476.2 364.76L477.2 364.74L478.2 364.72L479.2 364.7L480.2 364.66L481.2 364.61L482.2 364.54L483.2 364.45L484.2 364.33L485.2 364.17L486.2 363.97L487.2 363.71L488.2 363.37L489.2 362.95L490.2 362.43L491.2 361.77L492.2 360.98L493.2 360.01L494.2 358.84L495.2 357.45L496.2 355.81L497.2 353.9L498.2 351.7L499.2 349.17L500.2 346.32L501.2 343.14L502.2 339.61L503.2 335.77L504.2 331.62L505.2 327.21L506.2 322.58L507.2 317.79L508.2 312.93L509.2 308.07L510.2 303.32L511.2 298.78L512.2 294.58L513.2 290.82L514.2 287.61L515.2 285.07L516.2 283.26L517.2 282.26L518.2 282.09L519.2 282.77L520.2 284.44L521.2 287.15L522.2 290.73L523.2 295.06L524.2 299.99L525.2 305.38L526.2 311.11L527.2 317.03L528.2 323.02L529.2 328.96L530.2 334.76L531.2 340.31L532.2 345.55L533.2 350.42L534.2 354.88L535.2 358.91L536.2 362.5L537.2 365.65L538.2 368.4L539.2 370.75L540.2 372.74L541.2 374.41L542.2 375.79L543.2 376.91L544.2 377.82L545.2 378.55L546.2 379.13L547.2 379.57L548.2 379.92L549.2 380.19L550.2 380.39L551.2 380.54L552.2 380.65L553.2 380.73L554.2 380.79L555.2 380.83L556.2 380.86L557.2 380.88L558.2 380.9L559.2 380.91L560.2 380.91L561.2 380.92L562.2 380.92L563.2 380.92L564.2 380.92L565.2 380.92L566.2 380.93L567.2 380.93L568.2 380.93L569.2 380.93L570.2 380.93L571.2 380.93L572.2 380.93L573.2 380.93L574.2 380.93L575.2 380.93L576.2 380.93M451.2 365.06L452.2 365.06L453.2 365.06L454.2 365.06L455.2 365.06L456.2 365.06L457.2 365.06L458.2 365.06L459.2 365.06L460.2 365.06L461.2 365.06L462.2 365.06L463.2 365.06L464.2 365.06L465.2 365.06L466.2 365.06L467.2 365.06L468.2 365.06L469.2 365.06L470.2 365.06L471.2 365.06L472.2 365.06L473.2 365.06L474.2 365.06L475.2 365.05L476.2 365.05L477.2 365.04L478.2 365.03L479.2 365.02L480.2 365L481.2 364.98L482.2 364.95L483.2 364.9L484.2 364.84L485.2 364.76L486.2 364.65L487.2 364.51L488.2 364.32L489.2 364.09L490.2 363.78L491.2 363.4L492.2 362.92L493.2 362.33L494.2 361.6L495.2 360.7L496.2 359.63L497.2 358.35L498.2 356.83L499.2 355.06L500.2 353.01L501.2 350.66L502.2 347.99L503.2 345L504.2 341.69L505.2 338.06L506.2 334.13L507.2 329.95L508.2 325.53L509.2 320.95L510.2 316.28L511.2 311.59L512.2 306.98L513.2 302.56L514.2 298.42L515.2 294.69L516.2 291.47L517.2 288.87L518.2 286.96L519.2 285.82L520.2 285.48L521.2 285.95L522.2 287.32L523.2 289.71L524.2 292.98L525.2 297L526.2 301.64L527.2 306.75L528.2 312.21L529.2 317.89L530.2 323.66L531.2 329.42L532.2 335.05L533.2 340.47L534.2 345.6L535.2 350.39L536.2 354.79L537.2 358.78L538.2 362.34L539.2 365.49L540.2 368.23L541.2 370.59L542.2 372.59L543.2 374.27L544.2 375.66L545.2 376.81L546.2 377.73L547.2 378.48L548.2 379.06L549.2 379.53L550.2 379.88L551.2 380.16L552.2 380.36L553.2 380.52L554.2 380.63L555.2 380.72L556.2 380.78L557.2 380.82L558.2 380.86L559.2 380.88L560.2 380.89L561.2 380.9L562.2 380.91L563.2 380.92L564.2 380.92L565.2 380.92L566.2 380.92L567.2 380.92L568.2 380.93L569.2 380.93L570.2 380.93L571.2 380.93L572.2 380.93L573.2 380.93L574.2 380.93L575.2 380.93L576.2 380.93M451.2 365.47L452.2 365.47L453.2 365.47L454.2 365.47L455.2 365.47L456.2 365.47L457.2 365.47L458.2 365.47L459.2 365.47L460.2 365.47L461.2 365.47L462.2 365.47L463.2 365.47L464.2 365.47L465.2 365.47L466.2 365.47L467.2 365.47L468.2 365.47L469.2 365.47L470.2 365.47L471.2 365.47L472.2 365.47L473.2 365.47L474.2 365.46L475.2 365.46L476.2 365.45L477.2 365.44L478.2 365.42L479.2 365.4L480.2 365.37L481.2 365.33L482.2 365.28L483.2 365.21L484.2 365.11L485.2 364.99L486.2 364.82L487.2 364.61L488.2 364.34L489.2 364L490.2 363.57L491.2 363.03L492.2 362.38L493.2 361.57L494.2 360.6L495.2 359.44L496.2 358.06L497.2 356.44L498.2 354.57L499.2 352.41L500.2 349.96L501.2 347.21L502.2 344.15L503.2 340.79L504.2 337.14L505.2 333.23L506.2 329.1L507.2 324.8L508.2 320.39L509.2 315.95L510.2 311.57L511.2 307.33L512.2 303.35L513.2 299.72L514.2 296.56L515.2 293.95L516.2 292L517.2 290.76L518.2 290.27L519.2 290.55L520.2 291.64L521.2 293.71L522.2 296.64L523.2 300.31L524.2 304.59L525.2 309.35L526.2 314.47L527.2 319.82L528.2 325.28L529.2 330.76L530.2 336.13L531.2 341.33L532.2 346.27L533.2 350.89L534.2 355.15L535.2 359.03L536.2 362.51L537.2 365.59L538.2 368.28L539.2 370.6L540.2 372.58L541.2 374.25L542.2 375.64L543.2 376.77L544.2 377.7L545.2 378.44L546.2 379.04L547.2 379.5L548.2 379.86L549.2 380.14L550.2 380.35L551.2 380.51L552.2 380.63L553.2 380.71L554.2 380.78L555.2 380.82L556.2 380.85L557.2 380.88L558.2 380.89L559.2 380.9L560.2 380.91L561.2 380.92L562.2 380.92L563.2 380.92L564.2 380.92L565.2 380.92L566.2 380.93L567.2 380.93L568.2 380.93L569.2 380.93L570.2 380.93L571.2 380.93L572.2 380.93L573.2 380.93L574.2 380.93L575.2 380.93L576.2 380.93" stroke="#b3162a" stroke-width="1.15" fill="none" stroke-linejoin="round"/><path d="M446.2 381.2H451.2M446.2 353.85H451.2M446.2 326.5H451.2M446.2 299.15H451.2M446.2 271.8H451.2M446.2 244.45H451.2" stroke="#c4c4c4" stroke-width="1.2" fill="none"/><path d="M451.2 399V403.5M460.13 399V403.5M469.06 399V403.5M477.99 399V403.5M486.91 399V403.5M495.84 399V403.5M504.77 399V403.5M513.7 399V403.5M522.63 399V403.5M531.56 399V403.5M540.49 399V403.5M549.41 399V403.5M558.34 399V403.5M567.27 399V403.5M576.2 399V403.5" stroke="#999" stroke-width="1" fill="none"/><path d="M451.2 226.8V399M446.2 226.8H451.2M446.2 399H576.2" stroke="#828282" stroke-width="1" fill="none"/><text x="443.2" y="384.2" font-size="8.2" fill="#383838" text-anchor="end">0k</text><text x="443.2" y="356.85" font-size="8.2" fill="#383838" text-anchor="end">20k</text><text x="443.2" y="329.5" font-size="8.2" fill="#383838" text-anchor="end">40k</text><text x="443.2" y="302.15" font-size="8.2" fill="#383838" text-anchor="end">60k</text><text x="443.2" y="274.8" font-size="8.2" fill="#383838" text-anchor="end">80k</text><text x="443.2" y="247.45" font-size="8.2" fill="#383838" text-anchor="end">100k</text><text x="451.2" y="413.3" font-size="8.6" fill="#383838" text-anchor="middle" textLength="8.7" lengthAdjust="spacingAndGlyphs">78</text><text x="460.13" y="413.3" font-size="8.6" fill="#383838" text-anchor="middle" textLength="8.7" lengthAdjust="spacingAndGlyphs">79</text><text x="469.06" y="413.3" font-size="8.6" fill="#383838" text-anchor="middle" textLength="8.7" lengthAdjust="spacingAndGlyphs">80</text><text x="477.99" y="413.3" font-size="8.6" fill="#383838" text-anchor="middle" textLength="8.7" lengthAdjust="spacingAndGlyphs">81</text><text x="486.91" y="413.3" font-size="8.6" fill="#383838" text-anchor="middle" textLength="8.7" lengthAdjust="spacingAndGlyphs">82</text><text x="495.84" y="413.3" font-size="8.6" fill="#383838" text-anchor="middle" textLength="8.7" lengthAdjust="spacingAndGlyphs">83</text><text x="504.77" y="413.3" font-size="8.6" fill="#383838" text-anchor="middle" textLength="8.7" lengthAdjust="spacingAndGlyphs">84</text><text x="513.7" y="413.3" font-size="8.6" fill="#383838" text-anchor="middle" textLength="8.7" lengthAdjust="spacingAndGlyphs">85</text><text x="522.63" y="413.3" font-size="8.6" fill="#383838" text-anchor="middle" textLength="8.7" lengthAdjust="spacingAndGlyphs">86</text><text x="531.56" y="413.3" font-size="8.6" fill="#383838" text-anchor="middle" textLength="8.7" lengthAdjust="spacingAndGlyphs">87</text><text x="540.49" y="413.3" font-size="8.6" fill="#383838" text-anchor="middle" textLength="8.7" lengthAdjust="spacingAndGlyphs">88</text><text x="549.41" y="413.3" font-size="8.6" fill="#383838" text-anchor="middle" textLength="8.7" lengthAdjust="spacingAndGlyphs">89</text><text x="558.34" y="413.3" font-size="8.6" fill="#383838" text-anchor="middle" textLength="8.7" lengthAdjust="spacingAndGlyphs">90</text><text x="567.27" y="413.3" font-size="8.6" fill="#383838" text-anchor="middle" textLength="8.7" lengthAdjust="spacingAndGlyphs">91</text><text x="576.2" y="413.3" font-size="8.6" fill="#383838" text-anchor="middle" textLength="8.7" lengthAdjust="spacingAndGlyphs">92</text><text x="459.7" y="258.2" font-size="13.21" font-weight="bold" fill="#000" stroke="#000" stroke-width="0.35" textLength="26.3" lengthAdjust="spacingAndGlyphs">RCA</text><text transform="translate(416.5 359.2) rotate(-90)" font-size="11" fill="#4a4a4a" textLength="91.9" lengthAdjust="spacingAndGlyphs">Derivative Reporter</text></g>
<g><path d="M673.91 228.8V401M692.53 228.8V401M711.14 228.8V401M729.76 228.8V401M748.37 228.8V401M766.99 228.8V401M785.6 228.8V401M655.3 378.2H785.6M655.3 354.75H785.6M655.3 331.3H785.6M655.3 307.85H785.6M655.3 284.4H785.6M655.3 260.95H785.6M655.3 237.5H785.6" stroke="#d0d0d0" stroke-width="1" fill="none"/><path d="M655.3 361.79L656.3 361.79L657.3 361.79L658.31 361.79L659.31 361.79L660.31 361.79L661.31 361.79L662.32 361.79L663.32 361.79L664.32 361.79L665.32 361.79L666.33 361.79L667.33 361.79L668.33 361.79L669.33 361.79L670.33 361.79L671.34 361.79L672.34 361.79L673.34 361.79L674.34 361.79L675.35 361.79L676.35 361.79L677.35 361.79L678.35 361.79L679.36 361.79L680.36 361.79L681.36 361.79L682.36 361.79L683.36 361.79L684.37 361.79L685.37 361.79L686.37 361.79L687.37 361.78L688.38 361.78L689.38 361.78L690.38 361.78L691.38 361.78L692.39 361.78L693.39 361.77L694.39 361.76L695.39 361.75L696.39 361.73L697.4 361.7L698.4 361.66L699.4 361.6L700.4 361.52L701.41 361.42L702.41 361.27L703.41 361.08L704.41 360.82L705.42 360.48L706.42 360.05L707.42 359.49L708.42 358.78L709.42 357.9L710.43 356.81L711.43 355.48L712.43 353.87L713.43 351.95L714.44 349.7L715.44 347.07L716.44 344.06L717.44 340.65L718.45 336.83L719.45 332.63L720.45 328.07L721.45 323.18L722.45 318.04L723.46 312.71L724.46 307.31L725.46 301.92L726.46 296.68L727.47 291.72L728.47 287.16L729.47 283.13L730.47 279.75L731.48 277.12L732.48 275.32L733.48 274.42L734.48 274.45L735.48 275.23L736.49 276.34L737.49 277.9L738.49 279.99L739.49 282.69L740.5 286L741.5 289.93L742.5 294.44L743.5 299.49L744.51 304.99L745.51 310.83L746.51 316.92L747.51 323.11L748.51 329.29L749.52 335.32L750.52 341.1L751.52 346.53L752.52 351.53L753.53 356.06L754.53 360.06L755.53 363.55L756.53 366.52L757.54 369L758.54 371.04L759.54 372.68L760.54 373.97L761.54 374.97L762.55 375.73L763.55 376.29L764.55 376.7L765.55 377L766.56 377.2L767.56 377.34L768.56 377.44L769.56 377.5L770.57 377.54L771.57 377.57L772.57 377.58L773.57 377.59L774.57 377.6L775.58 377.61L776.58 377.61L777.58 377.61L778.58 377.61L779.59 377.61L780.59 377.61L781.59 377.61L782.59 377.61L783.6 377.61L784.6 377.61L785.6 377.61M655.3 362.37L656.3 362.37L657.3 362.37L658.31 362.37L659.31 362.37L660.31 362.37L661.31 362.37L662.32 362.37L663.32 362.37L664.32 362.37L665.32 362.37L666.33 362.37L667.33 362.37L668.33 362.37L669.33 362.37L670.33 362.37L671.34 362.37L672.34 362.37L673.34 362.37L674.34 362.37L675.35 362.37L676.35 362.37L677.35 362.37L678.35 362.37L679.36 362.37L680.36 362.37L681.36 362.37L682.36 362.37L683.36 362.37L684.37 362.37L685.37 362.37L686.37 362.37L687.37 362.37L688.38 362.37L689.38 362.37L690.38 362.37L691.38 362.37L692.39 362.36L693.39 362.36L694.39 362.35L695.39 362.34L696.39 362.33L697.4 362.31L698.4 362.28L699.4 362.23L700.4 362.17L701.41 362.08L702.41 361.97L703.41 361.81L704.41 361.6L705.42 361.32L706.42 360.96L707.42 360.5L708.42 359.91L709.42 359.16L710.43 358.23L711.43 357.09L712.43 355.7L713.43 354.03L714.44 352.05L715.44 349.73L716.44 347.05L717.44 343.98L718.45 340.52L719.45 336.67L720.45 332.46L721.45 327.9L722.45 323.05L723.46 317.98L724.46 312.77L725.46 307.51L726.46 302.32L727.47 297.31L728.47 292.62L729.47 288.36L730.47 284.66L731.48 281.63L732.48 279.36L733.48 277.92L734.48 277.37L735.48 277.72L736.49 278.59L737.49 279.81L738.49 281.5L739.49 283.74L740.5 286.57L741.5 290.01L742.5 294.03L743.5 298.61L744.51 303.68L745.51 309.16L746.51 314.93L747.51 320.89L748.51 326.91L749.52 332.87L750.52 338.65L751.52 344.15L752.52 349.27L753.53 353.96L754.53 358.17L755.53 361.88L756.53 365.07L757.54 367.78L758.54 370.03L759.54 371.86L760.54 373.32L761.54 374.47L762.55 375.34L763.55 376.01L764.55 376.49L765.55 376.85L766.56 377.1L767.56 377.27L768.56 377.39L769.56 377.47L770.57 377.52L771.57 377.55L772.57 377.58L773.57 377.59L774.57 377.6L775.58 377.6L776.58 377.61L777.58 377.61L778.58 377.61L779.59 377.61L780.59 377.61L781.59 377.61L782.59 377.61L783.6 377.61L784.6 377.61L785.6 377.61M655.3 362.96L656.3 362.96L657.3 362.96L658.31 362.96L659.31 362.96L660.31 362.96L661.31 362.96L662.32 362.96L663.32 362.96L664.32 362.96L665.32 362.96L666.33 362.96L667.33 362.96L668.33 362.96L669.33 362.96L670.33 362.96L671.34 362.96L672.34 362.96L673.34 362.96L674.34 362.96L675.35 362.96L676.35 362.96L677.35 362.96L678.35 362.96L679.36 362.96L680.36 362.96L681.36 362.96L682.36 362.96L683.36 362.96L684.37 362.96L685.37 362.96L686.37 362.96L687.37 362.96L688.38 362.96L689.38 362.96L690.38 362.96L691.38 362.96L692.39 362.95L693.39 362.95L694.39 362.95L695.39 362.94L696.39 362.93L697.4 362.91L698.4 362.89L699.4 362.86L700.4 362.81L701.41 362.75L702.41 362.66L703.41 362.54L704.41 362.38L705.42 362.17L706.42 361.89L707.42 361.52L708.42 361.05L709.42 360.45L710.43 359.71L711.43 358.78L712.43 357.63L713.43 356.25L714.44 354.59L715.44 352.63L716.44 350.34L717.44 347.7L718.45 344.69L719.45 341.31L720.45 337.56L721.45 333.46L722.45 329.06L723.46 324.38L724.46 319.52L725.46 314.53L726.46 309.53L727.47 304.62L728.47 299.92L729.47 295.54L730.47 291.6L731.48 288.23L732.48 285.51L733.48 283.54L734.48 282.38L735.48 282.06L736.49 282.58L737.49 283.48L738.49 284.75L739.49 286.48L740.5 288.75L741.5 291.59L742.5 295L743.5 298.97L744.51 303.46L745.51 308.39L746.51 313.68L747.51 319.24L748.51 324.94L749.52 330.67L750.52 336.32L751.52 341.77L752.52 346.93L753.53 351.72L754.53 356.08L755.53 359.98L756.53 363.39L757.54 366.32L758.54 368.8L759.54 370.84L760.54 372.49L761.54 373.81L762.55 374.84L763.55 375.62L764.55 376.21L765.55 376.64L766.56 376.95L767.56 377.17L768.56 377.32L769.56 377.42L770.57 377.49L771.57 377.53L772.57 377.56L773.57 377.58L774.57 377.59L775.58 377.6L776.58 377.6L777.58 377.61L778.58 377.61L779.59 377.61L780.59 377.61L781.59 377.61L782.59 377.61L783.6 377.61L784.6 377.61L785.6 377.61M655.3 363.54L656.3 363.54L657.3 363.54L658.31 363.54L659.31 363.54L660.31 363.54L661.31 363.54L662.32 363.54L663.32 363.54L664.32 363.54L665.32 363.54L666.33 363.54L667.33 363.54L668.33 363.54L669.33 363.54L670.33 363.54L671.34 363.54L672.34 363.54L673.34 363.54L674.34 363.54L675.35 363.54L676.35 363.54L677.35 363.54L678.35 363.54L679.36 363.54L680.36 363.54L681.36 363.54L682.36 363.54L683.36 363.54L684.37 363.54L685.37 363.54L686.37 363.54L687.37 363.54L688.38 363.54L689.38 363.54L690.38 363.54L691.38 363.54L692.39 363.54L693.39 363.54L694.39 363.53L695.39 363.53L696.39 363.52L697.4 363.51L698.4 363.49L699.4 363.46L700.4 363.42L701.41 363.37L702.41 363.29L703.41 363.19L704.41 363.06L705.42 362.87L706.42 362.63L707.42 362.31L708.42 361.9L709.42 361.37L710.43 360.71L711.43 359.89L712.43 358.87L713.43 357.62L714.44 356.13L715.44 354.35L716.44 352.26L717.44 349.83L718.45 347.05L719.45 343.91L720.45 340.4L721.45 336.54L722.45 332.37L723.46 327.91L724.46 323.23L725.46 318.39L726.46 313.5L727.47 308.64L728.47 303.94L729.47 299.49L730.47 295.43L731.48 291.87L732.48 288.91L733.48 286.64L734.48 285.13L735.48 284.44L736.49 284.59L737.49 285.34L738.49 286.39L739.49 287.86L740.5 289.83L741.5 292.35L742.5 295.42L743.5 299.05L744.51 303.21L745.51 307.83L746.51 312.85L747.51 318.17L748.51 323.69L749.52 329.29L750.52 334.85L751.52 340.27L752.52 345.45L753.53 350.29L754.53 354.74L755.53 358.75L756.53 362.3L757.54 365.37L758.54 367.98L759.54 370.16L760.54 371.94L761.54 373.36L762.55 374.49L763.55 375.35L764.55 376.01L765.55 376.49L766.56 376.84L767.56 377.09L768.56 377.27L769.56 377.39L770.57 377.47L771.57 377.52L772.57 377.55L773.57 377.58L774.57 377.59L775.58 377.6L776.58 377.6L777.58 377.61L778.58 377.61L779.59 377.61L780.59 377.61L781.59 377.61L782.59 377.61L783.6 377.61L784.6 377.61L785.6 377.61M655.3 364.13L656.3 364.13L657.3 364.13L658.31 364.13L659.31 364.13L660.31 364.13L661.31 364.13L662.32 364.13L663.32 364.13L664.32 364.13L665.32 364.13L666.33 364.13L667.33 364.13L668.33 364.13L669.33 364.13L670.33 364.13L671.34 364.13L672.34 364.13L673.34 364.13L674.34 364.13L675.35 364.13L676.35 364.13L677.35 364.13L678.35 364.13L679.36 364.13L680.36 364.13L681.36 364.13L682.36 364.13L683.36 364.13L684.37 364.13L685.37 364.13L686.37 364.13L687.37 364.13L688.38 364.13L689.38 364.13L690.38 364.13L691.38 364.13L692.39 364.13L693.39 364.13L694.39 364.12L695.39 364.12L696.39 364.11L697.4 364.1L698.4 364.09L699.4 364.07L700.4 364.04L701.41 364L702.41 363.94L703.41 363.86L704.41 363.75L705.42 363.6L706.42 363.41L707.42 363.15L708.42 362.81L709.42 362.38L710.43 361.83L711.43 361.14L712.43 360.29L713.43 359.23L714.44 357.96L715.44 356.42L716.44 354.61L717.44 352.48L718.45 350.03L719.45 347.23L720.45 344.08L721.45 340.59L722.45 336.76L723.46 332.64L724.46 328.27L725.46 323.7L726.46 319.01L727.47 314.3L728.47 309.67L729.47 305.21L730.47 301.05L731.48 297.29L732.48 294.05L733.48 291.42L734.48 289.49L735.48 288.3L736.49 287.92L737.49 288.33L738.49 289.13L739.49 290.27L740.5 291.85L741.5 293.92L742.5 296.52L743.5 299.67L744.51 303.34L745.51 307.51L746.51 312.1L747.51 317.04L748.51 322.24L749.52 327.59L750.52 332.98L751.52 338.3L752.52 343.44L753.53 348.32L754.53 352.86L755.53 357L756.53 360.71L757.54 363.96L758.54 366.76L759.54 369.12L760.54 371.08L761.54 372.67L762.55 373.93L763.55 374.92L764.55 375.68L765.55 376.25L766.56 376.66L767.56 376.96L768.56 377.18L769.56 377.33L770.57 377.43L771.57 377.49L772.57 377.54L773.57 377.56L774.57 377.58L775.58 377.59L776.58 377.6L777.58 377.61L778.58 377.61L779.59 377.61L780.59 377.61L781.59 377.61L782.59 377.61L783.6 377.61L784.6 377.61L785.6 377.61M655.3 364.13L656.3 364.13L657.3 364.13L658.31 364.13L659.31 364.13L660.31 364.13L661.31 364.13L662.32 364.13L663.32 364.13L664.32 364.13L665.32 364.13L666.33 364.13L667.33 364.13L668.33 364.13L669.33 364.13L670.33 364.13L671.34 364.13L672.34 364.13L673.34 364.13L674.34 364.13L675.35 364.13L676.35 364.13L677.35 364.13L678.35 364.13L679.36 364.13L680.36 364.13L681.36 364.13L682.36 364.13L683.36 364.13L684.37 364.13L685.37 364.13L686.37 364.13L687.37 364.13L688.38 364.13L689.38 364.13L690.38 364.13L691.38 364.13L692.39 364.13L693.39 364.13L694.39 364.13L695.39 364.12L696.39 364.12L697.4 364.11L698.4 364.1L699.4 364.09L700.4 364.06L701.41 364.03L702.41 363.99L703.41 363.93L704.41 363.85L705.42 363.73L706.42 363.58L707.42 363.38L708.42 363.11L709.42 362.77L710.43 362.33L711.43 361.77L712.43 361.06L713.43 360.19L714.44 359.12L715.44 357.83L716.44 356.29L717.44 354.46L718.45 352.34L719.45 349.89L720.45 347.1L721.45 343.98L722.45 340.52L723.46 336.76L724.46 332.71L725.46 328.43L726.46 323.99L727.47 319.45L728.47 314.91L729.47 310.47L730.47 306.23L731.48 302.3L732.48 298.79L733.48 295.81L734.48 293.44L735.48 291.75L736.49 290.81L737.49 290.65L738.49 291.2L739.49 292.07L740.5 293.28L741.5 294.94L742.5 297.08L743.5 299.74L744.51 302.93L745.51 306.61L746.51 310.76L747.51 315.3L748.51 320.16L749.52 325.24L750.52 330.44L751.52 335.65L752.52 340.77L753.53 345.7L754.53 350.35L755.53 354.65L756.53 358.56L757.54 362.04L758.54 365.08L759.54 367.69L760.54 369.88L761.54 371.68L762.55 373.14L763.55 374.3L764.55 375.2L765.55 375.89L766.56 376.4L767.56 376.77L768.56 377.04L769.56 377.23L770.57 377.36L771.57 377.45L772.57 377.51L773.57 377.55L774.57 377.57L775.58 377.59L776.58 377.6L777.58 377.6L778.58 377.61L779.59 377.61L780.59 377.61L781.59 377.61L782.59 377.61L783.6 377.61L784.6 377.61L785.6 377.61" stroke="#b3162a" stroke-width="1.15" fill="none" stroke-linejoin="round"/><path d="M650.3 378.2H655.3M650.3 354.75H655.3M650.3 331.3H655.3M650.3 307.85H655.3M650.3 284.4H655.3M650.3 260.95H655.3M650.3 237.5H655.3" stroke="#c4c4c4" stroke-width="1.2" fill="none"/><path d="M655.3 401V405.5M664.61 401V405.5M673.91 401V405.5M683.22 401V405.5M692.53 401V405.5M701.84 401V405.5M711.14 401V405.5M720.45 401V405.5M729.76 401V405.5M739.06 401V405.5M748.37 401V405.5M757.68 401V405.5M766.99 401V405.5M776.29 401V405.5M785.6 401V405.5" stroke="#999" stroke-width="1" fill="none"/><path d="M655.3 228.8V401M650.3 228.8H655.3M650.3 401H785.6" stroke="#828282" stroke-width="1" fill="none"/><text x="647.3" y="381.2" font-size="8.2" fill="#383838" text-anchor="end">0k</text><text x="647.3" y="357.75" font-size="8.2" fill="#383838" text-anchor="end">20k</text><text x="647.3" y="334.3" font-size="8.2" fill="#383838" text-anchor="end">40k</text><text x="647.3" y="310.85" font-size="8.2" fill="#383838" text-anchor="end">60k</text><text x="647.3" y="287.4" font-size="8.2" fill="#383838" text-anchor="end">80k</text><text x="647.3" y="263.95" font-size="8.2" fill="#383838" text-anchor="end">100k</text><text x="647.3" y="240.5" font-size="8.2" fill="#383838" text-anchor="end">120k</text><text x="655.3" y="414.1" font-size="8.6" fill="#383838" text-anchor="middle" textLength="8.7" lengthAdjust="spacingAndGlyphs">72</text><text x="664.61" y="414.1" font-size="8.6" fill="#383838" text-anchor="middle" textLength="8.7" lengthAdjust="spacingAndGlyphs">73</text><text x="673.91" y="414.1" font-size="8.6" fill="#383838" text-anchor="middle" textLength="8.7" lengthAdjust="spacingAndGlyphs">74</text><text x="683.22" y="414.1" font-size="8.6" fill="#383838" text-anchor="middle" textLength="8.7" lengthAdjust="spacingAndGlyphs">75</text><text x="692.53" y="414.1" font-size="8.6" fill="#383838" text-anchor="middle" textLength="8.7" lengthAdjust="spacingAndGlyphs">76</text><text x="701.84" y="414.1" font-size="8.6" fill="#383838" text-anchor="middle" textLength="8.7" lengthAdjust="spacingAndGlyphs">77</text><text x="711.14" y="414.1" font-size="8.6" fill="#383838" text-anchor="middle" textLength="8.7" lengthAdjust="spacingAndGlyphs">78</text><text x="720.45" y="414.1" font-size="8.6" fill="#383838" text-anchor="middle" textLength="8.7" lengthAdjust="spacingAndGlyphs">79</text><text x="729.76" y="414.1" font-size="8.6" fill="#383838" text-anchor="middle" textLength="8.7" lengthAdjust="spacingAndGlyphs">80</text><text x="739.06" y="414.1" font-size="8.6" fill="#383838" text-anchor="middle" textLength="8.7" lengthAdjust="spacingAndGlyphs">81</text><text x="748.37" y="414.1" font-size="8.6" fill="#383838" text-anchor="middle" textLength="8.7" lengthAdjust="spacingAndGlyphs">82</text><text x="757.68" y="414.1" font-size="8.6" fill="#383838" text-anchor="middle" textLength="8.7" lengthAdjust="spacingAndGlyphs">83</text><text x="766.99" y="414.1" font-size="8.6" fill="#383838" text-anchor="middle" textLength="8.7" lengthAdjust="spacingAndGlyphs">84</text><text x="776.29" y="414.1" font-size="8.6" fill="#383838" text-anchor="middle" textLength="8.7" lengthAdjust="spacingAndGlyphs">85</text><text x="785.6" y="414.1" font-size="8.6" fill="#383838" text-anchor="middle" textLength="8.7" lengthAdjust="spacingAndGlyphs">86</text><text x="664.1" y="259.3" font-size="13.8" font-weight="bold" fill="#000" stroke="#000" stroke-width="0.35" textLength="23" lengthAdjust="spacingAndGlyphs">SPS</text><text transform="translate(620.2 361.2) rotate(-90)" font-size="11" fill="#4a4a4a" textLength="92.8" lengthAdjust="spacingAndGlyphs">Derivative Reporter</text><text x="679.3" y="430.3" font-size="12.3" fill="#3c3c3c" textLength="82.2" lengthAdjust="spacingAndGlyphs">Temperature (°C)</text></g>
<g><path d="M68.16 429.4V601.3M86.31 429.4V601.3M104.47 429.4V601.3M122.63 429.4V601.3M140.79 429.4V601.3M158.94 429.4V601.3M177.1 429.4V601.3M50 585.25H177.1M50 558.8H177.1M50 532.35H177.1M50 505.9H177.1M50 479.45H177.1M50 453H177.1" stroke="#d0d0d0" stroke-width="1" fill="none"/><path d="M50 545.84L51 545.79L52 545.74L53 545.69L54 545.64L55 545.58L56 545.53L57.01 545.48L58.01 545.43L59.01 545.38L60.01 545.33L61.01 545.28L62.01 545.23L63.01 545.18L64.01 545.13L65.01 545.07L66.01 545.02L67.01 544.97L68.01 544.92L69.01 544.87L70.02 544.82L71.02 544.76L72.02 544.71L73.02 544.66L74.02 544.6L75.02 544.54L76.02 544.48L77.02 544.42L78.02 544.35L79.02 544.27L80.02 544.18L81.02 544.07L82.03 543.94L83.03 543.79L84.03 543.6L85.03 543.37L86.03 543.08L87.03 542.73L88.03 542.29L89.03 541.75L90.03 541.09L91.03 540.29L92.03 539.32L93.03 538.17L94.03 536.81L95.04 535.22L96.04 533.38L97.04 531.27L98.04 528.89L99.04 526.23L100.04 523.3L101.04 520.11L102.04 516.69L103.04 513.06L104.04 509.29L105.04 505.41L106.04 501.5L107.04 497.64L108.05 493.9L109.05 490.37L110.05 487.13L111.05 484.28L112.05 481.87L113.05 479.98L114.05 478.64L115.05 477.9L116.05 477.75L117.05 478.15L118.05 479.08L119.05 480.72L120.06 483.06L121.06 486.02L122.06 489.53L123.06 493.47L124.06 497.76L125.06 502.3L126.06 506.99L127.06 511.73L128.06 516.43L129.06 521.02L130.06 525.43L131.06 529.6L132.06 533.49L133.07 537.06L134.07 540.3L135.07 543.2L136.07 545.76L137.07 547.99L138.07 549.91L139.07 551.54L140.07 552.92L141.07 554.06L142.07 555L143.07 555.76L144.07 556.37L145.07 556.86L146.08 557.24L147.08 557.53L148.08 557.76L149.08 557.93L150.08 558.06L151.08 558.16L152.08 558.23L153.08 558.28L154.08 558.32L155.08 558.34L156.08 558.36L157.08 558.38L158.09 558.38L159.09 558.39L160.09 558.4L161.09 558.4L162.09 558.4L163.09 558.4L164.09 558.4L165.09 558.4L166.09 558.4L167.09 558.4L168.09 558.4L169.09 558.4L170.09 558.4L171.1 558.4L172.1 558.4L173.1 558.4L174.1 558.4L175.1 558.4L176.1 558.4L177.1 558.4M50 546.1L51 546.05L52 546L53 545.95L54 545.9L55 545.85L56 545.8L57.01 545.75L58.01 545.7L59.01 545.64L60.01 545.59L61.01 545.54L62.01 545.49L63.01 545.44L64.01 545.39L65.01 545.34L66.01 545.29L67.01 545.24L68.01 545.19L69.01 545.13L70.02 545.08L71.02 545.03L72.02 544.98L73.02 544.93L74.02 544.88L75.02 544.82L76.02 544.77L77.02 544.71L78.02 544.65L79.02 544.59L80.02 544.53L81.02 544.45L82.03 544.37L83.03 544.28L84.03 544.17L85.03 544.04L86.03 543.88L87.03 543.68L88.03 543.44L89.03 543.15L90.03 542.78L91.03 542.32L92.03 541.77L93.03 541.09L94.03 540.26L95.04 539.27L96.04 538.1L97.04 536.71L98.04 535.09L99.04 533.23L100.04 531.1L101.04 528.7L102.04 526.04L103.04 523.1L104.04 519.93L105.04 516.53L106.04 512.94L107.04 509.22L108.05 505.42L109.05 501.61L110.05 497.86L111.05 494.26L112.05 490.88L113.05 487.81L114.05 485.14L115.05 482.92L116.05 481.22L117.05 480.08L118.05 479.52L119.05 479.52L120.06 480.07L121.06 481.15L122.06 482.95L123.06 485.42L124.06 488.47L125.06 492.03L126.06 495.99L127.06 500.26L128.06 504.75L129.06 509.36L130.06 513.99L131.06 518.57L132.06 523.02L133.07 527.27L134.07 531.28L135.07 535L136.07 538.41L137.07 541.48L138.07 544.23L139.07 546.64L140.07 548.74L141.07 550.55L142.07 552.08L143.07 553.36L144.07 554.42L145.07 555.29L146.08 555.99L147.08 556.55L148.08 557L149.08 557.35L150.08 557.62L151.08 557.82L152.08 557.98L153.08 558.1L154.08 558.18L155.08 558.25L156.08 558.29L157.08 558.33L158.09 558.35L159.09 558.37L160.09 558.38L161.09 558.39L162.09 558.39L163.09 558.4L164.09 558.4L165.09 558.4L166.09 558.4L167.09 558.4L168.09 558.4L169.09 558.4L170.09 558.4L171.1 558.4L172.1 558.4L173.1 558.4L174.1 558.4L175.1 558.4L176.1 558.4L177.1 558.4M50 546.24L51 546.19L52 546.13L53 546.08L54 546.03L55 545.98L56 545.93L57.01 545.88L58.01 545.83L59.01 545.78L60.01 545.73L61.01 545.67L62.01 545.62L63.01 545.57L64.01 545.52L65.01 545.47L66.01 545.42L67.01 545.37L68.01 545.32L69.01 545.27L70.02 545.22L71.02 545.16L72.02 545.11L73.02 545.06L74.02 545.01L75.02 544.96L76.02 544.9L77.02 544.85L78.02 544.79L79.02 544.73L80.02 544.67L81.02 544.6L82.03 544.52L83.03 544.43L84.03 544.33L85.03 544.21L86.03 544.07L87.03 543.9L88.03 543.68L89.03 543.42L90.03 543.09L91.03 542.69L92.03 542.19L93.03 541.58L94.03 540.84L95.04 539.95L96.04 538.88L97.04 537.62L98.04 536.13L99.04 534.42L100.04 532.45L101.04 530.22L102.04 527.73L103.04 524.97L104.04 521.96L105.04 518.72L106.04 515.29L107.04 511.69L108.05 507.99L109.05 504.24L110.05 500.53L111.05 496.91L112.05 493.48L113.05 490.32L114.05 487.51L115.05 485.11L116.05 483.21L117.05 481.83L118.05 481.02L119.05 480.77L120.06 481.08L121.06 481.88L122.06 483.32L123.06 485.46L124.06 488.2L125.06 491.48L126.06 495.2L127.06 499.27L128.06 503.6L129.06 508.08L130.06 512.63L131.06 517.17L132.06 521.61L133.07 525.88L134.07 529.94L135.07 533.73L136.07 537.23L137.07 540.4L138.07 543.25L139.07 545.78L140.07 547.98L141.07 549.89L142.07 551.51L143.07 552.88L144.07 554.02L145.07 554.96L146.08 555.73L147.08 556.34L148.08 556.83L149.08 557.22L150.08 557.52L151.08 557.75L152.08 557.92L153.08 558.05L154.08 558.15L155.08 558.22L156.08 558.28L157.08 558.31L158.09 558.34L159.09 558.36L160.09 558.37L161.09 558.38L162.09 558.39L163.09 558.39L164.09 558.4L165.09 558.4L166.09 558.4L167.09 558.4L168.09 558.4L169.09 558.4L170.09 558.4L171.1 558.4L172.1 558.4L173.1 558.4L174.1 558.4L175.1 558.4L176.1 558.4L177.1 558.4M50 546.24L51 546.19L52 546.13L53 546.08L54 546.03L55 545.98L56 545.93L57.01 545.88L58.01 545.83L59.01 545.78L60.01 545.73L61.01 545.67L62.01 545.62L63.01 545.57L64.01 545.52L65.01 545.47L66.01 545.42L67.01 545.37L68.01 545.32L69.01 545.27L70.02 545.21L71.02 545.16L72.02 545.11L73.02 545.06L74.02 545.01L75.02 544.95L76.02 544.9L77.02 544.84L78.02 544.78L79.02 544.71L80.02 544.64L81.02 544.56L82.03 544.47L83.03 544.37L84.03 544.25L85.03 544.1L86.03 543.92L87.03 543.69L88.03 543.42L89.03 543.08L90.03 542.66L91.03 542.14L92.03 541.51L93.03 540.75L94.03 539.83L95.04 538.73L96.04 537.44L97.04 535.94L98.04 534.19L99.04 532.21L100.04 529.96L101.04 527.46L102.04 524.7L103.04 521.71L104.04 518.5L105.04 515.11L106.04 511.58L107.04 507.97L108.05 504.33L109.05 500.75L110.05 497.29L111.05 494.04L112.05 491.07L113.05 488.46L114.05 486.29L115.05 484.61L116.05 483.45L117.05 482.85L118.05 482.8L119.05 483.27L120.06 484.24L121.06 485.88L122.06 488.16L123.06 491.02L124.06 494.37L125.06 498.11L126.06 502.16L127.06 506.43L128.06 510.83L129.06 515.26L130.06 519.65L131.06 523.93L132.06 528.03L133.07 531.9L134.07 535.5L135.07 538.8L136.07 541.79L137.07 544.46L138.07 546.82L139.07 548.87L140.07 550.64L141.07 552.14L142.07 553.4L143.07 554.45L144.07 555.3L145.07 556L146.08 556.56L147.08 557L148.08 557.35L149.08 557.62L150.08 557.82L151.08 557.98L152.08 558.1L153.08 558.18L154.08 558.25L155.08 558.29L156.08 558.33L157.08 558.35L158.09 558.37L159.09 558.38L160.09 558.39L161.09 558.39L162.09 558.4L163.09 558.4L164.09 558.4L165.09 558.4L166.09 558.4L167.09 558.4L168.09 558.4L169.09 558.4L170.09 558.4L171.1 558.4L172.1 558.4L173.1 558.4L174.1 558.4L175.1 558.4L176.1 558.4L177.1 558.4M50 546.5L51 546.45L52 546.4L53 546.35L54 546.3L55 546.25L56 546.19L57.01 546.14L58.01 546.09L59.01 546.04L60.01 545.99L61.01 545.94L62.01 545.89L63.01 545.84L64.01 545.79L65.01 545.74L66.01 545.68L67.01 545.63L68.01 545.58L69.01 545.53L70.02 545.48L71.02 545.43L72.02 545.38L73.02 545.32L74.02 545.27L75.02 545.22L76.02 545.16L77.02 545.11L78.02 545.05L79.02 544.99L80.02 544.92L81.02 544.85L82.03 544.76L83.03 544.67L84.03 544.56L85.03 544.43L86.03 544.26L87.03 544.07L88.03 543.83L89.03 543.53L90.03 543.16L91.03 542.71L92.03 542.16L93.03 541.49L94.03 540.68L95.04 539.71L96.04 538.56L97.04 537.21L98.04 535.65L99.04 533.85L100.04 531.81L101.04 529.53L102.04 526.99L103.04 524.22L104.04 521.23L105.04 518.05L106.04 514.71L107.04 511.27L108.05 507.77L109.05 504.3L110.05 500.9L111.05 497.67L112.05 494.68L113.05 492L114.05 489.71L115.05 487.86L116.05 486.51L117.05 485.69L118.05 485.4L119.05 485.64L120.06 486.34L121.06 487.61L122.06 489.54L123.06 492.04L124.06 495.06L125.06 498.5L126.06 502.28L127.06 506.31L128.06 510.5L129.06 514.77L130.06 519.03L131.06 523.21L132.06 527.25L133.07 531.09L134.07 534.69L135.07 538.01L136.07 541.04L137.07 543.77L138.07 546.18L139.07 548.3L140.07 550.13L141.07 551.7L142.07 553.02L143.07 554.13L144.07 555.04L145.07 555.78L146.08 556.38L147.08 556.86L148.08 557.23L149.08 557.53L150.08 557.75L151.08 557.93L152.08 558.06L153.08 558.15L154.08 558.22L155.08 558.28L156.08 558.31L157.08 558.34L158.09 558.36L159.09 558.37L160.09 558.38L161.09 558.39L162.09 558.39L163.09 558.4L164.09 558.4L165.09 558.4L166.09 558.4L167.09 558.4L168.09 558.4L169.09 558.4L170.09 558.4L171.1 558.4L172.1 558.4L173.1 558.4L174.1 558.4L175.1 558.4L176.1 558.4L177.1 558.4M50 546.63L51 546.58L52 546.53L53 546.48L54 546.43L55 546.38L56 546.33L57.01 546.28L58.01 546.22L59.01 546.17L60.01 546.12L61.01 546.07L62.01 546.02L63.01 545.97L64.01 545.92L65.01 545.87L66.01 545.82L67.01 545.77L68.01 545.71L69.01 545.66L70.02 545.61L71.02 545.56L72.02 545.51L73.02 545.46L74.02 545.41L75.02 545.35L76.02 545.3L77.02 545.25L78.02 545.19L79.02 545.13L80.02 545.07L81.02 545L82.03 544.93L83.03 544.85L84.03 544.75L85.03 544.65L86.03 544.51L87.03 544.36L88.03 544.17L89.03 543.93L90.03 543.64L91.03 543.28L92.03 542.85L93.03 542.31L94.03 541.66L95.04 540.88L96.04 539.94L97.04 538.83L98.04 537.53L99.04 536.02L100.04 534.28L101.04 532.32L102.04 530.11L103.04 527.67L104.04 525L105.04 522.13L106.04 519.07L107.04 515.87L108.05 512.56L109.05 509.22L110.05 505.89L111.05 502.64L112.05 499.56L113.05 496.71L114.05 494.17L115.05 492L116.05 490.27L117.05 489.02L118.05 488.27L119.05 488.05L120.06 488.32L121.06 489.05L122.06 490.32L123.06 492.23L124.06 494.68L125.06 497.62L126.06 500.96L127.06 504.62L128.06 508.51L129.06 512.55L130.06 516.66L131.06 520.75L132.06 524.77L133.07 528.64L134.07 532.32L135.07 535.77L136.07 538.95L137.07 541.85L138.07 544.45L139.07 546.76L140.07 548.78L141.07 550.53L142.07 552.02L143.07 553.28L144.07 554.34L145.07 555.2L146.08 555.91L147.08 556.48L148.08 556.94L149.08 557.29L150.08 557.57L151.08 557.79L152.08 557.95L153.08 558.07L154.08 558.17L155.08 558.23L156.08 558.28L157.08 558.32L158.09 558.34L159.09 558.36L160.09 558.38L161.09 558.38L162.09 558.39L163.09 558.4L164.09 558.4L165.09 558.4L166.09 558.4L167.09 558.4L168.09 558.4L169.09 558.4L170.09 558.4L171.1 558.4L172.1 558.4L173.1 558.4L174.1 558.4L175.1 558.4L176.1 558.4L177.1 558.4" stroke="#b3162a" stroke-width="1.15" fill="none" stroke-linejoin="round"/><path d="M45 585.25H50M45 558.8H50M45 532.35H50M45 505.9H50M45 479.45H50M45 453H50" stroke="#c4c4c4" stroke-width="1.2" fill="none"/><path d="M50 601.3V605.8M59.08 601.3V605.8M68.16 601.3V605.8M77.24 601.3V605.8M86.31 601.3V605.8M95.39 601.3V605.8M104.47 601.3V605.8M113.55 601.3V605.8M122.63 601.3V605.8M131.71 601.3V605.8M140.79 601.3V605.8M149.86 601.3V605.8M158.94 601.3V605.8M168.02 601.3V605.8M177.1 601.3V605.8" stroke="#999" stroke-width="1" fill="none"/><path d="M50 429.4V601.3M45 429.4H50M45 601.3H177.1" stroke="#828282" stroke-width="1" fill="none"/><text x="42" y="588.25" font-size="8.2" fill="#383838" text-anchor="end">-20k</text><text x="42" y="561.8" font-size="8.2" fill="#383838" text-anchor="end">0k</text><text x="42" y="535.35" font-size="8.2" fill="#383838" text-anchor="end">20k</text><text x="42" y="508.9" font-size="8.2" fill="#383838" text-anchor="end">40k</text><text x="42" y="482.45" font-size="8.2" fill="#383838" text-anchor="end">60k</text><text x="42" y="456" font-size="8.2" fill="#383838" text-anchor="end">80k</text><text x="50" y="614.8" font-size="8.6" fill="#383838" text-anchor="middle" textLength="8.7" lengthAdjust="spacingAndGlyphs">72</text><text x="59.08" y="614.8" font-size="8.6" fill="#383838" text-anchor="middle" textLength="8.7" lengthAdjust="spacingAndGlyphs">73</text><text x="68.16" y="614.8" font-size="8.6" fill="#383838" text-anchor="middle" textLength="8.7" lengthAdjust="spacingAndGlyphs">74</text><text x="77.24" y="614.8" font-size="8.6" fill="#383838" text-anchor="middle" textLength="8.7" lengthAdjust="spacingAndGlyphs">75</text><text x="86.31" y="614.8" font-size="8.6" fill="#383838" text-anchor="middle" textLength="8.7" lengthAdjust="spacingAndGlyphs">76</text><text x="95.39" y="614.8" font-size="8.6" fill="#383838" text-anchor="middle" textLength="8.7" lengthAdjust="spacingAndGlyphs">77</text><text x="104.47" y="614.8" font-size="8.6" fill="#383838" text-anchor="middle" textLength="8.7" lengthAdjust="spacingAndGlyphs">78</text><text x="113.55" y="614.8" font-size="8.6" fill="#383838" text-anchor="middle" textLength="8.7" lengthAdjust="spacingAndGlyphs">79</text><text x="122.63" y="614.8" font-size="8.6" fill="#383838" text-anchor="middle" textLength="8.7" lengthAdjust="spacingAndGlyphs">80</text><text x="131.71" y="614.8" font-size="8.6" fill="#383838" text-anchor="middle" textLength="8.7" lengthAdjust="spacingAndGlyphs">81</text><text x="140.79" y="614.8" font-size="8.6" fill="#383838" text-anchor="middle" textLength="8.7" lengthAdjust="spacingAndGlyphs">82</text><text x="149.86" y="614.8" font-size="8.6" fill="#383838" text-anchor="middle" textLength="8.7" lengthAdjust="spacingAndGlyphs">83</text><text x="158.94" y="614.8" font-size="8.6" fill="#383838" text-anchor="middle" textLength="8.7" lengthAdjust="spacingAndGlyphs">84</text><text x="168.02" y="614.8" font-size="8.6" fill="#383838" text-anchor="middle" textLength="8.7" lengthAdjust="spacingAndGlyphs">85</text><text x="177.1" y="614.8" font-size="8.6" fill="#383838" text-anchor="middle" textLength="8.7" lengthAdjust="spacingAndGlyphs">86</text><text x="60.1" y="467.9" font-size="13.8" font-weight="bold" fill="#000" stroke="#000" stroke-width="0.35" textLength="23.9" lengthAdjust="spacingAndGlyphs">TBP</text><text transform="translate(15.1 562) rotate(-90)" font-size="11" fill="#4a4a4a" textLength="92.8" lengthAdjust="spacingAndGlyphs">Derivative Reporter</text><text x="66.5" y="632.4" font-size="12.3" fill="#3c3c3c" textLength="82.9" lengthAdjust="spacingAndGlyphs">Temperature (°C)</text></g>
<g><path d="M267.89 431.8V604.2M288.57 431.8V604.2M309.26 431.8V604.2M329.94 431.8V604.2M350.63 431.8V604.2M371.31 431.8V604.2M392 431.8V604.2M247.2 601.1H392M247.2 575.2H392M247.2 549.3H392M247.2 523.4H392M247.2 497.5H392M247.2 471.6H392M247.2 445.7H392" stroke="#d0d0d0" stroke-width="1" fill="none"/><path d="M247.2 557.07L248.21 557.07L249.21 557.07L250.22 557.07L251.22 557.07L252.23 557.07L253.23 557.07L254.24 557.07L255.24 557.07L256.25 557.07L257.26 557.07L258.26 557.07L259.27 557.07L260.27 557.07L261.28 557.07L262.28 557.07L263.29 557.07L264.29 557.07L265.3 557.07L266.31 557.07L267.31 557.07L268.32 557.07L269.32 557.07L270.33 557.07L271.33 557.07L272.34 557.06L273.34 557.06L274.35 557.06L275.36 557.05L276.36 557.05L277.37 557.04L278.37 557.02L279.38 557.01L280.38 556.99L281.39 556.96L282.39 556.93L283.4 556.88L284.41 556.83L285.41 556.76L286.42 556.67L287.42 556.56L288.43 556.42L289.43 556.24L290.44 556.03L291.44 555.77L292.45 555.46L293.46 555.08L294.46 554.63L295.47 554.1L296.47 553.47L297.48 552.73L298.48 551.87L299.49 550.88L300.49 549.74L301.5 548.43L302.51 546.96L303.51 545.3L304.52 543.44L305.52 541.39L306.53 539.12L307.53 536.64L308.54 533.95L309.54 531.05L310.55 527.94L311.56 524.65L312.56 521.18L313.57 517.55L314.57 513.79L315.58 509.93L316.58 506L317.59 502.03L318.59 498.08L319.6 494.17L320.61 490.37L321.61 486.7L322.62 483.22L323.62 479.98L324.63 477.03L325.63 474.39L326.64 472.13L327.64 470.25L328.65 468.8L329.66 467.79L330.66 467.21L331.67 467.07L332.67 467.34L333.68 467.96L334.68 469.02L335.69 470.76L336.69 473.21L337.7 476.34L338.71 480.1L339.71 484.41L340.72 489.2L341.72 494.38L342.73 499.85L343.73 505.5L344.74 511.24L345.74 516.97L346.75 522.6L347.76 528.05L348.76 533.23L349.77 538.11L350.77 542.63L351.78 546.77L352.78 550.5L353.79 553.83L354.79 556.77L355.8 559.33L356.81 561.53L357.81 563.41L358.82 564.98L359.82 566.3L360.83 567.38L361.83 568.27L362.84 568.98L363.84 569.56L364.85 570.02L365.86 570.39L366.86 570.68L367.87 570.92L368.87 571.1L369.88 571.25L370.88 571.38L371.89 571.48L372.89 571.57L373.9 571.65L374.91 571.72L375.91 571.78L376.92 571.84L377.92 571.89L378.93 571.95L379.93 572L380.94 572.05L381.94 572.1L382.95 572.16L383.96 572.21L384.96 572.26L385.97 572.31L386.97 572.36L387.98 572.41L388.98 572.46L389.99 572.51L390.99 572.56L392 572.61M247.2 557.72L248.21 557.72L249.21 557.72L250.22 557.72L251.22 557.72L252.23 557.72L253.23 557.72L254.24 557.72L255.24 557.72L256.25 557.72L257.26 557.72L258.26 557.72L259.27 557.72L260.27 557.72L261.28 557.72L262.28 557.72L263.29 557.72L264.29 557.72L265.3 557.72L266.31 557.72L267.31 557.72L268.32 557.72L269.32 557.72L270.33 557.72L271.33 557.72L272.34 557.72L273.34 557.71L274.35 557.71L275.36 557.71L276.36 557.71L277.37 557.71L278.37 557.7L279.38 557.7L280.38 557.69L281.39 557.68L282.39 557.66L283.4 557.64L284.41 557.62L285.41 557.59L286.42 557.55L287.42 557.5L288.43 557.43L289.43 557.35L290.44 557.25L291.44 557.12L292.45 556.96L293.46 556.77L294.46 556.53L295.47 556.24L296.47 555.9L297.48 555.48L298.48 554.99L299.49 554.41L300.49 553.73L301.5 552.94L302.51 552.02L303.51 550.96L304.52 549.76L305.52 548.39L306.53 546.85L307.53 545.13L308.54 543.22L309.54 541.11L310.55 538.81L311.56 536.3L312.56 533.6L313.57 530.7L314.57 527.62L315.58 524.38L316.58 520.98L317.59 517.46L318.59 513.84L319.6 510.15L320.61 506.43L321.61 502.71L322.62 499.03L323.62 495.43L324.63 491.97L325.63 488.68L326.64 485.6L327.64 482.79L328.65 480.28L329.66 478.11L330.66 476.3L331.67 474.9L332.67 473.9L333.68 473.32L334.68 473.16L335.69 473.37L336.69 473.94L337.7 474.88L338.71 476.45L339.71 478.69L340.72 481.57L341.72 485.05L342.73 489.05L343.73 493.52L344.74 498.36L345.74 503.48L346.75 508.79L347.76 514.2L348.76 519.6L349.77 524.92L350.77 530.07L351.78 534.99L352.78 539.62L353.79 543.92L354.79 547.86L355.8 551.43L356.81 554.61L357.81 557.43L358.82 559.88L359.82 562L360.83 563.8L361.83 565.32L362.84 566.59L363.84 567.64L364.85 568.49L365.86 569.19L366.86 569.75L367.87 570.2L368.87 570.56L369.88 570.85L370.88 571.08L371.89 571.26L372.89 571.41L373.9 571.53L374.91 571.63L375.91 571.72L376.92 571.8L377.92 571.87L378.93 571.93L379.93 571.99L380.94 572.04L381.94 572.1L382.95 572.15L383.96 572.2L384.96 572.26L385.97 572.31L386.97 572.36L387.98 572.41L388.98 572.46L389.99 572.51L390.99 572.56L392 572.61M247.2 558.36L248.21 558.36L249.21 558.36L250.22 558.36L251.22 558.36L252.23 558.36L253.23 558.36L254.24 558.36L255.24 558.36L256.25 558.36L257.26 558.36L258.26 558.36L259.27 558.36L260.27 558.36L261.28 558.36L262.28 558.36L263.29 558.36L264.29 558.36L265.3 558.36L266.31 558.36L267.31 558.36L268.32 558.36L269.32 558.36L270.33 558.36L271.33 558.36L272.34 558.36L273.34 558.36L274.35 558.36L275.36 558.36L276.36 558.36L277.37 558.35L278.37 558.35L279.38 558.35L280.38 558.34L281.39 558.33L282.39 558.32L283.4 558.3L284.41 558.28L285.41 558.25L286.42 558.21L287.42 558.17L288.43 558.11L289.43 558.03L290.44 557.94L291.44 557.83L292.45 557.68L293.46 557.5L294.46 557.29L295.47 557.02L296.47 556.71L297.48 556.33L298.48 555.87L299.49 555.34L300.49 554.71L301.5 553.97L302.51 553.12L303.51 552.14L304.52 551.02L305.52 549.74L306.53 548.31L307.53 546.69L308.54 544.9L309.54 542.92L310.55 540.75L311.56 538.39L312.56 535.83L313.57 533.09L314.57 530.17L315.58 527.08L316.58 523.84L317.59 520.48L318.59 517.01L319.6 513.47L320.61 509.88L321.61 506.29L322.62 502.73L323.62 499.24L324.63 495.86L325.63 492.63L326.64 489.61L327.64 486.82L328.65 484.31L329.66 482.12L330.66 480.28L331.67 478.81L332.67 477.74L333.68 477.07L334.68 476.79L335.69 476.89L336.69 477.34L337.7 478.11L338.71 479.45L339.71 481.43L340.72 484.03L341.72 487.23L342.73 490.95L343.73 495.14L344.74 499.71L345.74 504.59L346.75 509.66L347.76 514.86L348.76 520.07L349.77 525.23L350.77 530.24L351.78 535.05L352.78 539.59L353.79 543.83L354.79 547.72L355.8 551.26L356.81 554.43L357.81 557.24L358.82 559.69L359.82 561.82L360.83 563.64L361.83 565.17L362.84 566.46L363.84 567.53L364.85 568.4L365.86 569.11L366.86 569.69L367.87 570.15L368.87 570.52L369.88 570.82L370.88 571.05L371.89 571.24L372.89 571.4L373.9 571.52L374.91 571.63L375.91 571.72L376.92 571.79L377.92 571.86L378.93 571.93L379.93 571.99L380.94 572.04L381.94 572.1L382.95 572.15L383.96 572.2L384.96 572.26L385.97 572.31L386.97 572.36L387.98 572.41L388.98 572.46L389.99 572.51L390.99 572.56L392 572.61M247.2 559.01L248.21 559.01L249.21 559.01L250.22 559.01L251.22 559.01L252.23 559.01L253.23 559.01L254.24 559.01L255.24 559.01L256.25 559.01L257.26 559.01L258.26 559.01L259.27 559.01L260.27 559.01L261.28 559.01L262.28 559.01L263.29 559.01L264.29 559.01L265.3 559.01L266.31 559.01L267.31 559.01L268.32 559.01L269.32 559.01L270.33 559.01L271.33 559.01L272.34 559.01L273.34 559.01L274.35 559.01L275.36 559.01L276.36 559L277.37 559L278.37 559L279.38 558.99L280.38 558.98L281.39 558.97L282.39 558.96L283.4 558.94L284.41 558.92L285.41 558.89L286.42 558.85L287.42 558.8L288.43 558.74L289.43 558.66L290.44 558.56L291.44 558.44L292.45 558.29L293.46 558.1L294.46 557.87L295.47 557.6L296.47 557.27L297.48 556.87L298.48 556.4L299.49 555.85L300.49 555.2L301.5 554.44L302.51 553.56L303.51 552.56L304.52 551.41L305.52 550.11L306.53 548.65L307.53 547.01L308.54 545.2L309.54 543.2L310.55 541.02L311.56 538.64L312.56 536.08L313.57 533.34L314.57 530.44L315.58 527.37L316.58 524.17L317.59 520.85L318.59 517.44L319.6 513.97L320.61 510.46L321.61 506.97L322.62 503.51L323.62 500.14L324.63 496.9L325.63 493.81L326.64 490.94L327.64 488.31L328.65 485.97L329.66 483.95L330.66 482.28L331.67 480.97L332.67 480.05L333.68 479.52L334.68 479.37L335.69 479.58L336.69 480.11L337.7 481.01L338.71 482.52L339.71 484.66L340.72 487.4L341.72 490.7L342.73 494.49L343.73 498.71L344.74 503.27L345.74 508.1L346.75 513.09L347.76 518.16L348.76 523.23L349.77 528.21L350.77 533.03L351.78 537.62L352.78 541.94L353.79 545.94L354.79 549.61L355.8 552.93L356.81 555.89L357.81 558.49L358.82 560.77L359.82 562.73L360.83 564.39L361.83 565.8L362.84 566.97L363.84 567.94L364.85 568.73L365.86 569.37L366.86 569.89L367.87 570.31L368.87 570.64L369.88 570.91L370.88 571.12L371.89 571.29L372.89 571.43L373.9 571.55L374.91 571.65L375.91 571.73L376.92 571.8L377.92 571.87L378.93 571.93L379.93 571.99L380.94 572.05L381.94 572.1L382.95 572.15L383.96 572.2L384.96 572.26L385.97 572.31L386.97 572.36L387.98 572.41L388.98 572.46L389.99 572.51L390.99 572.56L392 572.61M247.2 559.66L248.21 559.66L249.21 559.66L250.22 559.66L251.22 559.66L252.23 559.66L253.23 559.66L254.24 559.66L255.24 559.66L256.25 559.66L257.26 559.66L258.26 559.66L259.27 559.66L260.27 559.66L261.28 559.66L262.28 559.66L263.29 559.66L264.29 559.66L265.3 559.66L266.31 559.66L267.31 559.66L268.32 559.66L269.32 559.66L270.33 559.66L271.33 559.66L272.34 559.66L273.34 559.66L274.35 559.66L275.36 559.66L276.36 559.65L277.37 559.65L278.37 559.65L279.38 559.64L280.38 559.64L281.39 559.63L282.39 559.62L283.4 559.6L284.41 559.58L285.41 559.56L286.42 559.53L287.42 559.48L288.43 559.43L289.43 559.37L290.44 559.28L291.44 559.18L292.45 559.05L293.46 558.89L294.46 558.7L295.47 558.46L296.47 558.17L297.48 557.83L298.48 557.42L299.49 556.94L300.49 556.37L301.5 555.71L302.51 554.94L303.51 554.05L304.52 553.03L305.52 551.88L306.53 550.57L307.53 549.11L308.54 547.48L309.54 545.67L310.55 543.69L311.56 541.53L312.56 539.2L313.57 536.69L314.57 534.01L315.58 531.18L316.58 528.21L317.59 525.12L318.59 521.93L319.6 518.67L320.61 515.36L321.61 512.04L322.62 508.74L323.62 505.5L324.63 502.35L325.63 499.35L326.64 496.52L327.64 493.9L328.65 491.54L329.66 489.46L330.66 487.7L331.67 486.28L332.67 485.22L333.68 484.52L334.68 484.19L335.69 484.22L336.69 484.57L337.7 485.2L338.71 486.33L339.71 488.05L340.72 490.36L341.72 493.22L342.73 496.58L343.73 500.38L344.74 504.54L345.74 509L346.75 513.66L347.76 518.45L348.76 523.26L349.77 528.03L350.77 532.69L351.78 537.16L352.78 541.39L353.79 545.35L354.79 549L355.8 552.31L356.81 555.29L357.81 557.94L358.82 560.26L359.82 562.27L360.83 563.99L361.83 565.45L362.84 566.67L363.84 567.69L364.85 568.52L365.86 569.2L366.86 569.75L367.87 570.2L368.87 570.56L369.88 570.84L370.88 571.07L371.89 571.25L372.89 571.4L373.9 571.53L374.91 571.63L375.91 571.72L376.92 571.8L377.92 571.86L378.93 571.93L379.93 571.99L380.94 572.04L381.94 572.1L382.95 572.15L383.96 572.2L384.96 572.26L385.97 572.31L386.97 572.36L387.98 572.41L388.98 572.46L389.99 572.51L390.99 572.56L392 572.61" stroke="#b3162a" stroke-width="1.15" fill="none" stroke-linejoin="round"/><path d="M242.2 601.1H247.2M242.2 575.2H247.2M242.2 549.3H247.2M242.2 523.4H247.2M242.2 497.5H247.2M242.2 471.6H247.2M242.2 445.7H247.2" stroke="#c4c4c4" stroke-width="1.2" fill="none"/><path d="M247.2 604.2V608.7M257.54 604.2V608.7M267.89 604.2V608.7M278.23 604.2V608.7M288.57 604.2V608.7M298.91 604.2V608.7M309.26 604.2V608.7M319.6 604.2V608.7M329.94 604.2V608.7M340.29 604.2V608.7M350.63 604.2V608.7M360.97 604.2V608.7M371.31 604.2V608.7M381.66 604.2V608.7M392 604.2V608.7" stroke="#999" stroke-width="1" fill="none"/><path d="M247.2 431.8V604.2M242.2 431.8H247.2M242.2 604.2H392" stroke="#828282" stroke-width="1" fill="none"/><text x="239.2" y="604.1" font-size="8.2" fill="#383838" text-anchor="end">-20k</text><text x="239.2" y="578.2" font-size="8.2" fill="#383838" text-anchor="end">0k</text><text x="239.2" y="552.3" font-size="8.2" fill="#383838" text-anchor="end">20k</text><text x="239.2" y="526.4" font-size="8.2" fill="#383838" text-anchor="end">40k</text><text x="239.2" y="500.5" font-size="8.2" fill="#383838" text-anchor="end">60k</text><text x="239.2" y="474.6" font-size="8.2" fill="#383838" text-anchor="end">80k</text><text x="239.2" y="448.7" font-size="8.2" fill="#383838" text-anchor="end">100k</text><text x="247.2" y="617.5" font-size="8.6" fill="#383838" text-anchor="middle" textLength="9.6" lengthAdjust="spacingAndGlyphs">72</text><text x="257.54" y="617.5" font-size="8.6" fill="#383838" text-anchor="middle" textLength="9.6" lengthAdjust="spacingAndGlyphs">73</text><text x="267.89" y="617.5" font-size="8.6" fill="#383838" text-anchor="middle" textLength="9.6" lengthAdjust="spacingAndGlyphs">74</text><text x="278.23" y="617.5" font-size="8.6" fill="#383838" text-anchor="middle" textLength="9.6" lengthAdjust="spacingAndGlyphs">75</text><text x="288.57" y="617.5" font-size="8.6" fill="#383838" text-anchor="middle" textLength="9.6" lengthAdjust="spacingAndGlyphs">76</text><text x="298.91" y="617.5" font-size="8.6" fill="#383838" text-anchor="middle" textLength="9.6" lengthAdjust="spacingAndGlyphs">77</text><text x="309.26" y="617.5" font-size="8.6" fill="#383838" text-anchor="middle" textLength="9.6" lengthAdjust="spacingAndGlyphs">78</text><text x="319.6" y="617.5" font-size="8.6" fill="#383838" text-anchor="middle" textLength="9.6" lengthAdjust="spacingAndGlyphs">79</text><text x="329.94" y="617.5" font-size="8.6" fill="#383838" text-anchor="middle" textLength="9.6" lengthAdjust="spacingAndGlyphs">80</text><text x="340.29" y="617.5" font-size="8.6" fill="#383838" text-anchor="middle" textLength="9.6" lengthAdjust="spacingAndGlyphs">81</text><text x="350.63" y="617.5" font-size="8.6" fill="#383838" text-anchor="middle" textLength="9.6" lengthAdjust="spacingAndGlyphs">82</text><text x="360.97" y="617.5" font-size="8.6" fill="#383838" text-anchor="middle" textLength="9.6" lengthAdjust="spacingAndGlyphs">83</text><text x="371.31" y="617.5" font-size="8.6" fill="#383838" text-anchor="middle" textLength="9.6" lengthAdjust="spacingAndGlyphs">84</text><text x="381.66" y="617.5" font-size="8.6" fill="#383838" text-anchor="middle" textLength="9.6" lengthAdjust="spacingAndGlyphs">85</text><text x="392" y="617.5" font-size="8.6" fill="#383838" text-anchor="middle" textLength="9.6" lengthAdjust="spacingAndGlyphs">86</text><text x="255.4" y="467.9" font-size="13.8" font-weight="bold" fill="#000" stroke="#000" stroke-width="0.35" textLength="27.3" lengthAdjust="spacingAndGlyphs">UBC</text><text transform="translate(213.7 563.7) rotate(-90)" font-size="11" fill="#4a4a4a" textLength="92.5" lengthAdjust="spacingAndGlyphs">Derivative Reporter</text><text x="275.2" y="632.4" font-size="12.3" fill="#3c3c3c" textLength="82.1" lengthAdjust="spacingAndGlyphs">Temperature (°C)</text></g>
<g><path d="M471.4 431.8V603.9M489.8 431.8V603.9M508.2 431.8V603.9M526.6 431.8V603.9M545 431.8V603.9M563.4 431.8V603.9M581.8 431.8V603.9M453 600.5H581.8M453 572.3H581.8M453 544.1H581.8M453 515.9H581.8M453 487.7H581.8M453 459.5H581.8M453 431.3H581.8" stroke="#d0d0d0" stroke-width="1" fill="none"/><path d="M453 582.87L454.01 582.87L455.01 582.87L456.02 582.87L457.02 582.87L458.03 582.87L459.04 582.87L460.04 582.87L461.05 582.87L462.06 582.87L463.06 582.87L464.07 582.87L465.07 582.87L466.08 582.87L467.09 582.87L468.09 582.87L469.1 582.87L470.11 582.87L471.11 582.87L472.12 582.87L473.12 582.87L474.13 582.87L475.14 582.87L476.14 582.87L477.15 582.87L478.16 582.86L479.16 582.86L480.17 582.85L481.18 582.84L482.18 582.83L483.19 582.82L484.19 582.8L485.2 582.77L486.21 582.74L487.21 582.69L488.22 582.63L489.22 582.56L490.23 582.46L491.24 582.34L492.24 582.18L493.25 581.99L494.26 581.74L495.26 581.44L496.27 581.06L497.27 580.6L498.28 580.04L499.29 579.37L500.29 578.55L501.3 577.59L502.31 576.44L503.31 575.09L504.32 573.51L505.32 571.69L506.33 569.59L507.34 567.2L508.34 564.49L509.35 561.46L510.36 558.08L511.36 554.36L512.37 550.29L513.38 545.9L514.38 541.2L515.39 536.23L516.39 531.03L517.4 525.67L518.41 520.22L519.41 514.79L520.42 509.46L521.42 504.39L522.43 499.7L523.44 495.56L524.44 492.14L525.45 489.6L526.46 488.08L527.46 487.73L528.47 488.71L529.48 490.63L530.48 493.32L531.49 496.77L532.49 500.93L533.5 505.76L534.51 511.19L535.51 517.14L536.52 523.48L537.52 530.08L538.53 536.79L539.54 543.48L540.54 550L541.55 556.24L542.56 562.09L543.56 567.48L544.57 572.36L545.57 576.7L546.58 580.5L547.59 583.77L548.59 586.54L549.6 588.85L550.61 590.75L551.61 592.3L552.62 593.53L553.62 594.51L554.63 595.28L555.64 595.88L556.64 596.34L557.65 596.71L558.66 596.99L559.66 597.22L560.67 597.4L561.67 597.55L562.68 597.68L563.69 597.79L564.69 597.9L565.7 597.99L566.71 598.09L567.71 598.18L568.72 598.27L569.72 598.35L570.73 598.44L571.74 598.52L572.74 598.61L573.75 598.69L574.76 598.78L575.76 598.86L576.77 598.95L577.77 599.03L578.78 599.12L579.79 599.2L580.79 599.29L581.8 599.37M453 583.58L454.01 583.58L455.01 583.58L456.02 583.58L457.02 583.58L458.03 583.58L459.04 583.58L460.04 583.58L461.05 583.58L462.06 583.58L463.06 583.58L464.07 583.58L465.07 583.58L466.08 583.58L467.09 583.58L468.09 583.58L469.1 583.58L470.11 583.58L471.11 583.58L472.12 583.58L473.12 583.58L474.13 583.58L475.14 583.58L476.14 583.57L477.15 583.57L478.16 583.57L479.16 583.57L480.17 583.56L481.18 583.55L482.18 583.54L483.19 583.53L484.19 583.51L485.2 583.48L486.21 583.45L487.21 583.41L488.22 583.36L489.22 583.29L490.23 583.2L491.24 583.08L492.24 582.94L493.25 582.75L494.26 582.52L495.26 582.24L496.27 581.89L497.27 581.45L498.28 580.93L499.29 580.29L500.29 579.52L501.3 578.6L502.31 577.52L503.31 576.23L504.32 574.74L505.32 573L506.33 571L507.34 568.71L508.34 566.12L509.35 563.21L510.36 559.96L511.36 556.38L512.37 552.45L513.38 548.21L514.38 543.65L515.39 538.81L516.39 533.75L517.4 528.5L518.41 523.16L519.41 517.8L520.42 512.53L521.42 507.46L522.43 502.75L523.44 498.53L524.44 494.97L525.45 492.24L526.46 490.47L527.46 489.82L528.47 490.44L529.48 492.12L530.48 494.56L531.49 497.75L532.49 501.66L533.5 506.24L534.51 511.45L535.51 517.18L536.52 523.34L537.52 529.78L538.53 536.36L539.54 542.96L540.54 549.41L541.55 555.62L542.56 561.46L543.56 566.87L544.57 571.78L545.57 576.16L546.58 580.02L547.59 583.34L548.59 586.17L549.6 588.54L550.61 590.5L551.61 592.09L552.62 593.36L553.62 594.38L554.63 595.18L555.64 595.8L556.64 596.29L557.65 596.66L558.66 596.96L559.66 597.19L560.67 597.38L561.67 597.54L562.68 597.67L563.69 597.79L564.69 597.89L565.7 597.99L566.71 598.09L567.71 598.18L568.72 598.26L569.72 598.35L570.73 598.44L571.74 598.52L572.74 598.61L573.75 598.69L574.76 598.78L575.76 598.86L576.77 598.95L577.77 599.03L578.78 599.12L579.79 599.2L580.79 599.29L581.8 599.37M453 583.86L454.01 583.86L455.01 583.86L456.02 583.86L457.02 583.86L458.03 583.86L459.04 583.86L460.04 583.86L461.05 583.86L462.06 583.86L463.06 583.86L464.07 583.86L465.07 583.86L466.08 583.86L467.09 583.86L468.09 583.86L469.1 583.86L470.11 583.86L471.11 583.86L472.12 583.86L473.12 583.86L474.13 583.86L475.14 583.86L476.14 583.86L477.15 583.86L478.16 583.85L479.16 583.85L480.17 583.85L481.18 583.84L482.18 583.84L483.19 583.83L484.19 583.81L485.2 583.8L486.21 583.77L487.21 583.74L488.22 583.71L489.22 583.66L490.23 583.59L491.24 583.51L492.24 583.4L493.25 583.27L494.26 583.1L495.26 582.9L496.27 582.64L497.27 582.32L498.28 581.92L499.29 581.44L500.29 580.87L501.3 580.17L502.31 579.34L503.31 578.36L504.32 577.2L505.32 575.85L506.33 574.28L507.34 572.48L508.34 570.43L509.35 568.11L510.36 565.5L511.36 562.59L512.37 559.39L513.38 555.89L514.38 552.11L515.39 548.06L516.39 543.77L517.4 539.29L518.41 534.66L519.41 529.95L520.42 525.25L521.42 520.64L522.43 516.24L523.44 512.18L524.44 508.6L525.45 505.63L526.46 503.43L527.46 502.13L528.47 501.83L529.48 502.69L530.48 504.39L531.49 506.76L532.49 509.76L533.5 513.38L534.51 517.57L535.51 522.28L536.52 527.43L537.52 532.92L538.53 538.64L539.54 544.46L540.54 550.27L541.55 555.94L542.56 561.36L543.56 566.46L544.57 571.17L545.57 575.43L546.58 579.22L547.59 582.55L548.59 585.42L549.6 587.85L550.61 589.88L551.61 591.56L552.62 592.92L553.62 594.02L554.63 594.89L555.64 595.58L556.64 596.11L557.65 596.53L558.66 596.86L559.66 597.12L560.67 597.33L561.67 597.5L562.68 597.65L563.69 597.77L564.69 597.88L565.7 597.99L566.71 598.08L567.71 598.17L568.72 598.26L569.72 598.35L570.73 598.44L571.74 598.52L572.74 598.61L573.75 598.69L574.76 598.78L575.76 598.86L576.77 598.95L577.77 599.03L578.78 599.12L579.79 599.2L580.79 599.29L581.8 599.37M453 584.28L454.01 584.28L455.01 584.28L456.02 584.28L457.02 584.28L458.03 584.28L459.04 584.28L460.04 584.28L461.05 584.28L462.06 584.28L463.06 584.28L464.07 584.28L465.07 584.28L466.08 584.28L467.09 584.28L468.09 584.28L469.1 584.28L470.11 584.28L471.11 584.28L472.12 584.28L473.12 584.28L474.13 584.28L475.14 584.28L476.14 584.28L477.15 584.28L478.16 584.28L479.16 584.28L480.17 584.27L481.18 584.27L482.18 584.26L483.19 584.26L484.19 584.25L485.2 584.23L486.21 584.22L487.21 584.19L488.22 584.16L489.22 584.12L490.23 584.07L491.24 584L492.24 583.92L493.25 583.81L494.26 583.67L495.26 583.5L496.27 583.28L497.27 583.02L498.28 582.69L499.29 582.29L500.29 581.81L501.3 581.23L502.31 580.53L503.31 579.69L504.32 578.71L505.32 577.56L506.33 576.22L507.34 574.68L508.34 572.91L509.35 570.89L510.36 568.62L511.36 566.09L512.37 563.28L513.38 560.19L514.38 556.84L515.39 553.23L516.39 549.39L517.4 545.34L518.41 541.14L519.41 536.83L520.42 532.49L521.42 528.19L522.43 524.03L523.44 520.13L524.44 516.59L525.45 513.57L526.46 511.2L527.46 509.6L528.47 508.88L529.48 509.16L530.48 510.45L531.49 512.38L532.49 514.89L533.5 517.98L534.51 521.61L535.51 525.74L536.52 530.3L537.52 535.23L538.53 540.42L539.54 545.76L540.54 551.15L541.55 556.46L542.56 561.59L543.56 566.46L544.57 571L545.57 575.15L546.58 578.87L547.59 582.17L548.59 585.03L549.6 587.48L550.61 589.54L551.61 591.26L552.62 592.67L553.62 593.8L554.63 594.71L555.64 595.44L556.64 596L557.65 596.45L558.66 596.8L559.66 597.08L560.67 597.3L561.67 597.48L562.68 597.63L563.69 597.76L564.69 597.88L565.7 597.98L566.71 598.08L567.71 598.17L568.72 598.26L569.72 598.35L570.73 598.44L571.74 598.52L572.74 598.61L573.75 598.69L574.76 598.78L575.76 598.86L576.77 598.95L577.77 599.03L578.78 599.12L579.79 599.2L580.79 599.29L581.8 599.37M453 584.71L454.01 584.71L455.01 584.71L456.02 584.71L457.02 584.71L458.03 584.71L459.04 584.71L460.04 584.71L461.05 584.71L462.06 584.71L463.06 584.71L464.07 584.71L465.07 584.71L466.08 584.71L467.09 584.71L468.09 584.71L469.1 584.71L470.11 584.71L471.11 584.71L472.12 584.71L473.12 584.71L474.13 584.71L475.14 584.71L476.14 584.71L477.15 584.7L478.16 584.7L479.16 584.7L480.17 584.7L481.18 584.69L482.18 584.69L483.19 584.68L484.19 584.67L485.2 584.66L486.21 584.64L487.21 584.62L488.22 584.59L489.22 584.55L490.23 584.51L491.24 584.44L492.24 584.36L493.25 584.26L494.26 584.13L495.26 583.97L496.27 583.77L497.27 583.52L498.28 583.21L499.29 582.83L500.29 582.37L501.3 581.82L502.31 581.16L503.31 580.37L504.32 579.43L505.32 578.34L506.33 577.06L507.34 575.59L508.34 573.89L509.35 571.97L510.36 569.79L511.36 567.36L512.37 564.66L513.38 561.69L514.38 558.46L515.39 554.97L516.39 551.25L517.4 547.33L518.41 543.25L519.41 539.05L520.42 534.81L521.42 530.6L522.43 526.51L523.44 522.64L524.44 519.12L525.45 516.07L526.46 513.62L527.46 511.91L528.47 511.05L529.48 511.14L530.48 512.26L531.49 514.02L532.49 516.37L533.5 519.29L534.51 522.74L535.51 526.69L536.52 531.08L537.52 535.84L538.53 540.88L539.54 546.08L540.54 551.34L541.55 556.55L542.56 561.6L543.56 566.41L544.57 570.9L545.57 575.01L546.58 578.72L547.59 582.01L548.59 584.88L549.6 587.34L550.61 589.42L551.61 591.15L552.62 592.57L553.62 593.72L554.63 594.65L555.64 595.38L556.64 595.96L557.65 596.42L558.66 596.78L559.66 597.06L560.67 597.29L561.67 597.47L562.68 597.63L563.69 597.76L564.69 597.87L565.7 597.98L566.71 598.08L567.71 598.17L568.72 598.26L569.72 598.35L570.73 598.44L571.74 598.52L572.74 598.61L573.75 598.69L574.76 598.78L575.76 598.86L576.77 598.95L577.77 599.03L578.78 599.12L579.79 599.2L580.79 599.29L581.8 599.37M453 584.99L454.01 584.99L455.01 584.99L456.02 584.99L457.02 584.99L458.03 584.99L459.04 584.99L460.04 584.99L461.05 584.99L462.06 584.99L463.06 584.99L464.07 584.99L465.07 584.99L466.08 584.99L467.09 584.99L468.09 584.99L469.1 584.99L470.11 584.99L471.11 584.99L472.12 584.99L473.12 584.99L474.13 584.99L475.14 584.99L476.14 584.99L477.15 584.99L478.16 584.99L479.16 584.98L480.17 584.98L481.18 584.98L482.18 584.97L483.19 584.97L484.19 584.96L485.2 584.95L486.21 584.93L487.21 584.91L488.22 584.89L489.22 584.85L490.23 584.81L491.24 584.75L492.24 584.68L493.25 584.59L494.26 584.47L495.26 584.32L496.27 584.14L497.27 583.91L498.28 583.63L499.29 583.29L500.29 582.86L501.3 582.35L502.31 581.74L503.31 581.01L504.32 580.14L505.32 579.12L506.33 577.93L507.34 576.55L508.34 574.96L509.35 573.15L510.36 571.1L511.36 568.79L512.37 566.23L513.38 563.4L514.38 560.3L515.39 556.96L516.39 553.37L517.4 549.57L518.41 545.6L519.41 541.49L520.42 537.32L521.42 533.14L522.43 529.05L523.44 525.14L524.44 521.53L525.45 518.33L526.46 515.68L527.46 513.71L528.47 512.54L529.48 512.25L530.48 513L531.49 514.52L532.49 516.62L533.5 519.29L534.51 522.5L535.51 526.22L536.52 530.39L537.52 534.96L538.53 539.84L539.54 544.92L540.54 550.1L541.55 555.27L542.56 560.32L543.56 565.15L544.57 569.7L545.57 573.9L546.58 577.71L547.59 581.11L548.59 584.09L549.6 586.66L550.61 588.84L551.61 590.67L552.62 592.18L553.62 593.41L554.63 594.4L555.64 595.19L556.64 595.82L557.65 596.31L558.66 596.7L559.66 597L560.67 597.25L561.67 597.44L562.68 597.61L563.69 597.74L564.69 597.86L565.7 597.97L566.71 598.07L567.71 598.17L568.72 598.26L569.72 598.35L570.73 598.44L571.74 598.52L572.74 598.61L573.75 598.69L574.76 598.78L575.76 598.86L576.77 598.95L577.77 599.03L578.78 599.12L579.79 599.2L580.79 599.29L581.8 599.37" stroke="#b3162a" stroke-width="1.15" fill="none" stroke-linejoin="round"/><path d="M448 600.5H453M448 572.3H453M448 544.1H453M448 515.9H453M448 487.7H453M448 459.5H453M448 431.3H453" stroke="#c4c4c4" stroke-width="1.2" fill="none"/><path d="M453 603.9V608.4M462.2 603.9V608.4M471.4 603.9V608.4M480.6 603.9V608.4M489.8 603.9V608.4M499 603.9V608.4M508.2 603.9V608.4M517.4 603.9V608.4M526.6 603.9V608.4M535.8 603.9V608.4M545 603.9V608.4M554.2 603.9V608.4M563.4 603.9V608.4M572.6 603.9V608.4M581.8 603.9V608.4" stroke="#999" stroke-width="1" fill="none"/><path d="M453 431.8V603.9M448 431.8H453M448 603.9H581.8" stroke="#828282" stroke-width="1" fill="none"/><text x="445" y="603.5" font-size="8.2" fill="#383838" text-anchor="end">0k</text><text x="445" y="575.3" font-size="8.2" fill="#383838" text-anchor="end">20k</text><text x="445" y="547.1" font-size="8.2" fill="#383838" text-anchor="end">40k</text><text x="445" y="518.9" font-size="8.2" fill="#383838" text-anchor="end">60k</text><text x="445" y="490.7" font-size="8.2" fill="#383838" text-anchor="end">80k</text><text x="445" y="462.5" font-size="8.2" fill="#383838" text-anchor="end">100k</text><text x="445" y="434.3" font-size="8.2" fill="#383838" text-anchor="end">120k</text><text x="453" y="617.5" font-size="8.6" fill="#383838" text-anchor="middle" textLength="8.7" lengthAdjust="spacingAndGlyphs">76</text><text x="462.2" y="617.5" font-size="8.6" fill="#383838" text-anchor="middle" textLength="8.7" lengthAdjust="spacingAndGlyphs">77</text><text x="471.4" y="617.5" font-size="8.6" fill="#383838" text-anchor="middle" textLength="8.7" lengthAdjust="spacingAndGlyphs">78</text><text x="480.6" y="617.5" font-size="8.6" fill="#383838" text-anchor="middle" textLength="8.7" lengthAdjust="spacingAndGlyphs">79</text><text x="489.8" y="617.5" font-size="8.6" fill="#383838" text-anchor="middle" textLength="8.7" lengthAdjust="spacingAndGlyphs">80</text><text x="499" y="617.5" font-size="8.6" fill="#383838" text-anchor="middle" textLength="8.7" lengthAdjust="spacingAndGlyphs">81</text><text x="508.2" y="617.5" font-size="8.6" fill="#383838" text-anchor="middle" textLength="8.7" lengthAdjust="spacingAndGlyphs">82</text><text x="517.4" y="617.5" font-size="8.6" fill="#383838" text-anchor="middle" textLength="8.7" lengthAdjust="spacingAndGlyphs">83</text><text x="526.6" y="617.5" font-size="8.6" fill="#383838" text-anchor="middle" textLength="8.7" lengthAdjust="spacingAndGlyphs">84</text><text x="535.8" y="617.5" font-size="8.6" fill="#383838" text-anchor="middle" textLength="8.7" lengthAdjust="spacingAndGlyphs">85</text><text x="545" y="617.5" font-size="8.6" fill="#383838" text-anchor="middle" textLength="8.7" lengthAdjust="spacingAndGlyphs">86</text><text x="554.2" y="617.5" font-size="8.6" fill="#383838" text-anchor="middle" textLength="8.7" lengthAdjust="spacingAndGlyphs">87</text><text x="563.4" y="617.5" font-size="8.6" fill="#383838" text-anchor="middle" textLength="8.7" lengthAdjust="spacingAndGlyphs">88</text><text x="572.6" y="617.5" font-size="8.6" fill="#383838" text-anchor="middle" textLength="8.7" lengthAdjust="spacingAndGlyphs">89</text><text x="581.8" y="617.5" font-size="8.6" fill="#383838" text-anchor="middle" textLength="8.7" lengthAdjust="spacingAndGlyphs">90</text><text x="461.7" y="469" font-size="14.38" font-weight="bold" fill="#000" stroke="#000" stroke-width="0.35" textLength="29.7" lengthAdjust="spacingAndGlyphs">UBQ</text><text transform="translate(418.2 564.5) rotate(-90)" font-size="11" fill="#4a4a4a" textLength="92.3" lengthAdjust="spacingAndGlyphs">Derivative Reporter</text><text x="474.6" y="631.6" font-size="12.3" fill="#3c3c3c" textLength="82.3" lengthAdjust="spacingAndGlyphs">Temperature (°C)</text></g>
</svg></body></html>
